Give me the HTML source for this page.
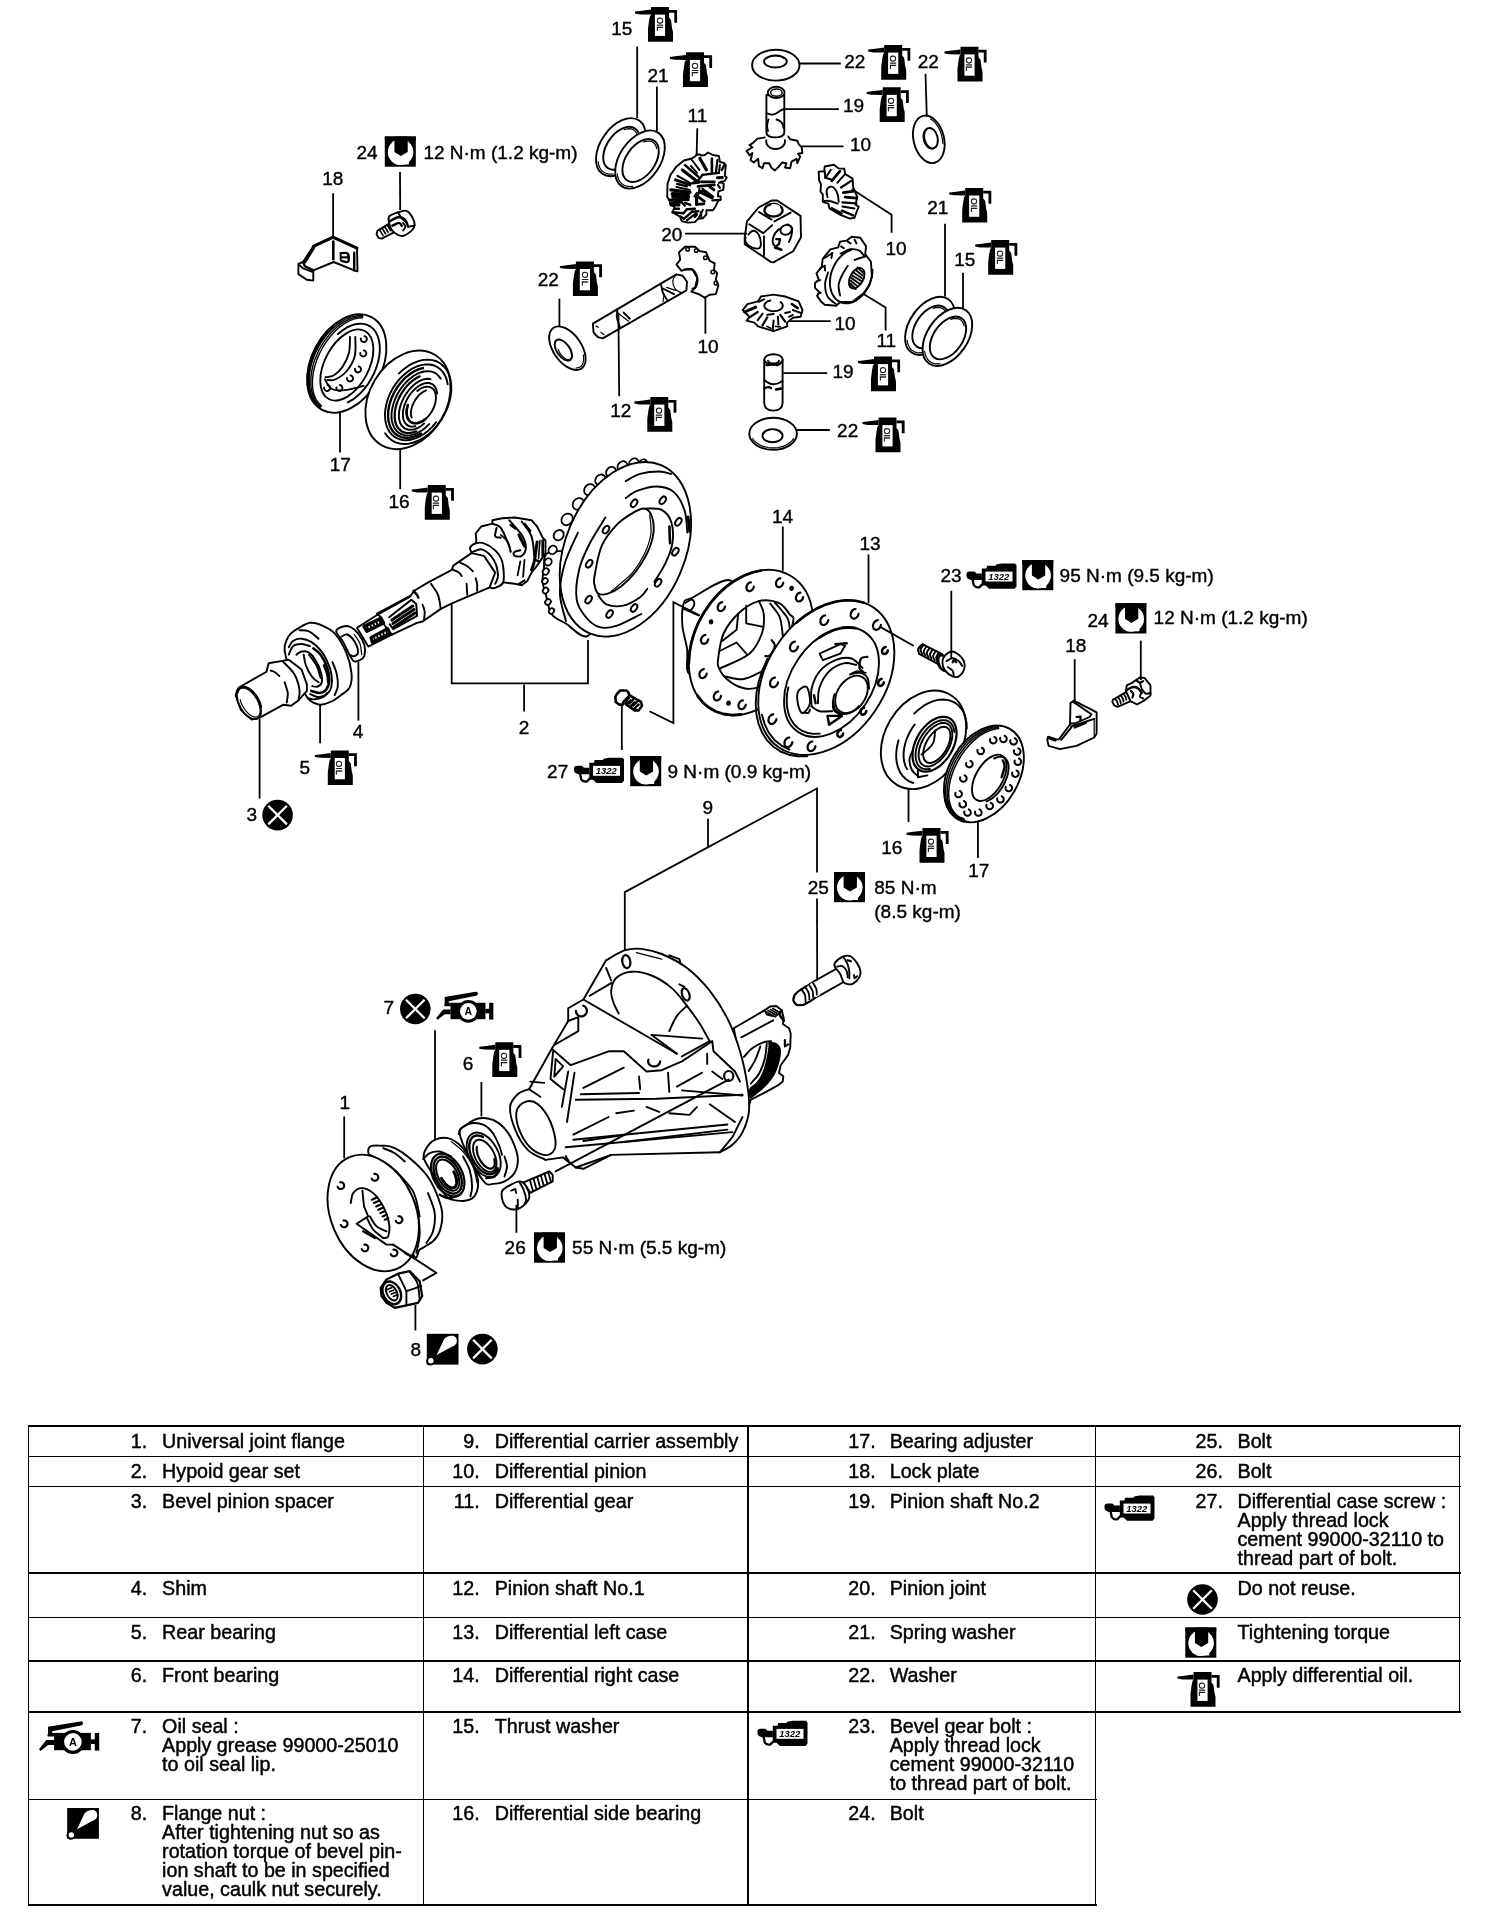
<!DOCTYPE html>
<html><head><meta charset="utf-8"><title>Differential components</title>
<style>
html,body{margin:0;padding:0;background:#fff;}
body{filter:grayscale(1);width:1504px;height:1932px;position:relative;overflow:hidden;font-family:"Liberation Sans",sans-serif;color:#000;}
svg{position:absolute;left:0;top:0;}
.t{position:absolute;font-size:19.7px;line-height:19px;white-space:nowrap;-webkit-text-stroke:0.45px #000;}
.n{text-align:right;width:40px;}
.hl{position:absolute;background:#000;height:2px;}
.vl{position:absolute;background:#000;width:2px;}
svg text{font-family:"Liberation Sans",sans-serif;fill:#000;}
.lb{font-size:19px;stroke:#000;stroke-width:0.4px;}
.p{fill:none;stroke:#000;stroke-width:1.9;stroke-linecap:round;stroke-linejoin:round;}
.pw{fill:#fff;stroke:#000;stroke-width:1.9;stroke-linecap:round;stroke-linejoin:round;}
.pt{fill:none;stroke:#000;stroke-width:1.2;stroke-linecap:round;stroke-linejoin:round;}
.ld{fill:none;stroke:#000;stroke-width:1.8;}
.k{fill:#000;stroke:none;}
</style></head><body>

<div class="hl" style="left:27.5px;top:1425.1px;width:1433.0px;height:1.8px"></div>
<div class="hl" style="left:27.5px;top:1455.6px;width:1433.0px;height:1.8px"></div>
<div class="hl" style="left:27.5px;top:1485.6px;width:1433.0px;height:1.8px"></div>
<div class="hl" style="left:27.5px;top:1571.95px;width:1433.0px;height:2.1px"></div>
<div class="hl" style="left:27.5px;top:1616.6px;width:1433.0px;height:1.8px"></div>
<div class="hl" style="left:27.5px;top:1660.3999999999999px;width:1433.0px;height:1.8px"></div>
<div class="hl" style="left:27.5px;top:1710.8px;width:1433.0px;height:1.8px"></div>
<div class="hl" style="left:27.5px;top:1798.6px;width:1069.0px;height:1.8px"></div>
<div class="hl" style="left:27.5px;top:1904.1px;width:1069.0px;height:1.8px"></div>
<div class="vl" style="left:27.6px;top:1425px;height:481px;width:1.8px"></div>
<div class="vl" style="left:422.6px;top:1425px;height:481px;width:1.8px"></div>
<div class="vl" style="left:746.9px;top:1425px;height:481px;width:1.8px"></div>
<div class="vl" style="left:1094.6px;top:1425px;height:481px;width:1.8px"></div>
<div class="vl" style="left:1458.6px;top:1425px;height:287.70000000000005px;width:1.8px"></div>
<div class="t n" style="left:107.19999999999999px;top:1432.1px">1.</div>
<div class="t" style="left:162.1px;top:1432.1px">Universal joint flange</div>
<div class="t n" style="left:439.7px;top:1432.1px">9.</div>
<div class="t" style="left:494.7px;top:1432.1px">Differential carrier assembly</div>
<div class="t n" style="left:835.7px;top:1432.1px">17.</div>
<div class="t" style="left:889.7px;top:1432.1px">Bearing adjuster</div>
<div class="t n" style="left:107.19999999999999px;top:1462.0px">2.</div>
<div class="t" style="left:162.1px;top:1462.0px">Hypoid gear set</div>
<div class="t n" style="left:439.7px;top:1462.0px">10.</div>
<div class="t" style="left:494.7px;top:1462.0px">Differential pinion</div>
<div class="t n" style="left:835.7px;top:1462.0px">18.</div>
<div class="t" style="left:889.7px;top:1462.0px">Lock plate</div>
<div class="t n" style="left:107.19999999999999px;top:1491.8px">3.</div>
<div class="t" style="left:162.1px;top:1491.8px">Bevel pinion spacer</div>
<div class="t n" style="left:439.7px;top:1491.8px">11.</div>
<div class="t" style="left:494.7px;top:1491.8px">Differential gear</div>
<div class="t n" style="left:835.7px;top:1491.8px">19.</div>
<div class="t" style="left:889.7px;top:1491.8px">Pinion shaft No.2</div>
<div class="t n" style="left:107.19999999999999px;top:1578.8px">4.</div>
<div class="t" style="left:162.1px;top:1578.8px">Shim</div>
<div class="t n" style="left:439.7px;top:1578.8px">12.</div>
<div class="t" style="left:494.7px;top:1578.8px">Pinion shaft No.1</div>
<div class="t n" style="left:835.7px;top:1578.8px">20.</div>
<div class="t" style="left:889.7px;top:1578.8px">Pinion joint</div>
<div class="t n" style="left:107.19999999999999px;top:1622.8px">5.</div>
<div class="t" style="left:162.1px;top:1622.8px">Rear bearing</div>
<div class="t n" style="left:439.7px;top:1622.8px">13.</div>
<div class="t" style="left:494.7px;top:1622.8px">Differential left case</div>
<div class="t n" style="left:835.7px;top:1622.8px">21.</div>
<div class="t" style="left:889.7px;top:1622.8px">Spring washer</div>
<div class="t n" style="left:107.19999999999999px;top:1666.1px">6.</div>
<div class="t" style="left:162.1px;top:1666.1px">Front bearing</div>
<div class="t n" style="left:439.7px;top:1666.1px">14.</div>
<div class="t" style="left:494.7px;top:1666.1px">Differential right case</div>
<div class="t n" style="left:835.7px;top:1666.1px">22.</div>
<div class="t" style="left:889.7px;top:1666.1px">Washer</div>
<div class="t n" style="left:107.19999999999999px;top:1717.1px">7.</div>
<div class="t" style="left:162.1px;top:1717.1px">Oil seal :<br>Apply grease 99000-25010<br>to oil seal lip.</div>
<div class="t n" style="left:439.7px;top:1717.1px">15.</div>
<div class="t" style="left:494.7px;top:1717.1px">Thrust washer</div>
<div class="t n" style="left:835.7px;top:1717.1px">23.</div>
<div class="t" style="left:889.7px;top:1717.1px">Bevel gear bolt :<br>Apply thread lock<br>cement 99000-32110<br>to thread part of bolt.</div>
<div class="t n" style="left:107.19999999999999px;top:1804.3px">8.</div>
<div class="t" style="left:162.1px;top:1804.3px">Flange nut :<br>After tightening nut so as<br>rotation torque of bevel pin-<br>ion shaft to be in specified<br>value, caulk nut securely.</div>
<div class="t n" style="left:439.7px;top:1804.3px">16.</div>
<div class="t" style="left:494.7px;top:1804.3px">Differential side bearing</div>
<div class="t n" style="left:835.7px;top:1804.3px">24.</div>
<div class="t" style="left:889.7px;top:1804.3px">Bolt</div>
<div class="t n" style="left:1182.9px;top:1432.1px">25.</div>
<div class="t" style="left:1237.5px;top:1432.1px">Bolt</div>
<div class="t n" style="left:1182.9px;top:1462.0px">26.</div>
<div class="t" style="left:1237.5px;top:1462.0px">Bolt</div>
<div class="t n" style="left:1182.9px;top:1491.8px">27.</div>
<div class="t" style="left:1237.5px;top:1491.8px">Differential case screw :<br>Apply thread lock<br>cement 99000-32110 to<br>thread part of bolt.</div>
<div class="t" style="left:1237.5px;top:1578.8px">Do not reuse.</div>
<div class="t" style="left:1237.5px;top:1622.8px">Tightening torque</div>
<div class="t" style="left:1237.5px;top:1666.1px">Apply differential oil.</div>
<svg width="1504" height="1932" viewBox="0 0 1504 1932">
<defs>
<!-- oil can: origin = body top-left -->
<g id="oil">
<polygon class="k" points="0,0 18,0 18,10.5 20,13 21,21 22,25 22,34.7 -3,34.7 -3,22 -2,14 -1,9 0,8"/>
<polygon class="k" points="-16,4.6 -11,4 0,2.6 0,7.6 -11,7.4 -16,6.6"/>
<path d="M18 4.3 H24.7 V15.8" stroke="#000" stroke-width="2.8" fill="none"/>
<rect x="3.9" y="7.6" width="10.2" height="21.3" fill="#fff"/>
<text transform="translate(5.6,10.2) rotate(90)" font-size="8.6" style="fill:#000;stroke:#000;stroke-width:.3px">OIL</text>
</g>
<!-- torque: origin = square top-left -->
<g id="tq">
<rect class="k" x="0" y="0" width="31" height="30.2"/>
<circle cx="15.8" cy="15.6" r="12.8" fill="#fff"/>
<rect x="11" y="22" width="13" height="6" fill="#fff"/>
<polygon class="k" points="9.6,0 22.9,0 22.9,15.4 16,19.6 9.6,15.4"/>
<rect class="k" x="0" y="0" width="31" height="3.6"/>
</g>
<!-- do not reuse: origin = centre -->
<g id="xc">
<circle class="k" cx="0" cy="0" r="15.3"/>
<path d="M-9.3 -9.3 L9.3 9.3 M9.3 -9.3 L-9.3 9.3" stroke="#fff" stroke-width="2.3" fill="none"/>
</g>
<!-- thread lock 1322: origin = bbox top-left -->
<g id="lk">
<path class="k" d="M15.3 5 H20 L20.6 2.3 H29 L29.6 1 L35 0 H48.6 L50 1.8 V23 L48 25.2 H22.5 L19 22 H15.3 Z"/>
<rect x="19" y="8.1" width="27" height="9.9" fill="#fff"/>
<text x="21.8" y="16.4" font-size="8.6" font-weight="bold" font-style="italic" textLength="21" lengthAdjust="spacingAndGlyphs">1322</text>
<path class="k" d="M0 10.5 Q0 8 3 8 H8 L10 10 H15.4 V16.4 H4.5 Q0 15.5 0 12.5 Z"/>
<path d="M6 15.5 L7.2 21.5 Q9.2 24.6 13 23.6 L17 19.5" stroke="#000" stroke-width="2.3" fill="none" stroke-linejoin="round"/>
</g>
<!-- grease gun (A): coords = px relative to origin; nozzle tip at (9,39.6) -->
<g id="gr">
<rect class="k" x="24.1" y="22.9" width="36.8" height="17.3"/>
<circle class="k" cx="42.9" cy="31.9" r="12"/>
<circle cx="42.9" cy="31.9" r="8.8" fill="#fff"/>
<text x="42.9" y="35.9" font-size="11" font-weight="bold" text-anchor="middle">A</text>
<rect class="k" x="60.8" y="29.3" width="5" height="4.7"/>
<rect class="k" x="64.8" y="22.9" width="4.4" height="17.7"/>
<path class="k" d="M18 16.8 L50.5 11.4 Q53 11 53 13.4 Q53 15 51 15.4 L22.2 21.2 L22.2 23 L24.2 23 L24.2 26.6 L18 26.6 Q16.8 25 18 23.5 Z"/>
<polygon class="k" points="24.2,29.9 16.3,29.9 9,39.2 10.6,40.9 18,34.9 24.2,34.9"/>
</g>
<!-- caulk: origin = square top-left -->
<g id="ck">
<rect class="k" x="0" y="0" width="31.7" height="30.8"/>
<circle class="k" cx="3.6" cy="27.4" r="4.3"/>
<path d="M9.8 21.5 L17 6 Q20 1.6 26 2 Q30.5 3 30 8 Q29.5 11.5 25 13 L13 19.5 Z" fill="#fff"/>
<circle cx="4.1" cy="27" r="2.7" fill="#fff"/>
</g>
</defs>

<!-- 00_tableicons.svg -->
<use href="#gr" x="30" y="1710"/>
<use href="#ck" x="67.2" y="1808"/>

<!-- 20_washers.svg -->
<ellipse class="pw" cx="620.8" cy="147.2" rx="32.4" ry="20.2" transform="rotate(-55.3 620.8 147.2)"/>
<ellipse class="pw" cx="621.4" cy="148.2" rx="24" ry="14.6" transform="rotate(-55.3 621.4 148.2)"/>
<path class="pt" d="M613.3 174 L610.4 174.2 L607.6 173.9 L605.1 173 L602.9 171.6 L601.1 169.8 L599.7 167.5 L598.6 164.7 L598.1 161.7"/>
<path class="pt" d="M624.2 129.7 L626.6 129 L628.9 128.7 L631.1 128.9 L633 129.5 L634.6 130.6 L635.9 132.1 L636.9 134 L637.5 136.2"/>
<ellipse class="pw" cx="640" cy="159.5" rx="32.4" ry="20.2" transform="rotate(-55.3 640 159.5)"/>
<ellipse class="pw" cx="640.6" cy="160.5" rx="24" ry="14.6" transform="rotate(-55.3 640.6 160.5)"/>
<path class="pt" d="M632.5 186.3 L629.6 186.5 L626.8 186.2 L624.3 185.3 L622.1 183.9 L620.3 182.1 L618.9 179.8 L617.8 177 L617.3 174"/>
<path class="pt" d="M643.4 142 L645.8 141.3 L648.1 141 L650.3 141.2 L652.2 141.8 L653.8 142.9 L655.1 144.4 L656.1 146.3 L656.7 148.5"/>
<ellipse class="pw" cx="929.9" cy="325.9" rx="32.4" ry="20.2" transform="rotate(-55.3 929.9 325.9)"/>
<ellipse class="pw" cx="930.5" cy="326.9" rx="24" ry="14.6" transform="rotate(-55.3 930.5 326.9)"/>
<path class="pt" d="M922.4 352.7 L919.5 352.9 L916.7 352.6 L914.2 351.7 L912 350.3 L910.2 348.5 L908.8 346.2 L907.7 343.4 L907.2 340.4"/>
<path class="pt" d="M933.3 308.4 L935.7 307.7 L938 307.4 L940.2 307.6 L942.1 308.2 L943.7 309.3 L945 310.8 L946 312.7 L946.6 314.9"/>
<ellipse class="pw" cx="947.4" cy="336.9" rx="32.4" ry="20.2" transform="rotate(-55.3 947.4 336.9)"/>
<ellipse class="pw" cx="948" cy="337.9" rx="24" ry="14.6" transform="rotate(-55.3 948 337.9)"/>
<path class="pt" d="M939.9 363.7 L937 363.9 L934.2 363.6 L931.7 362.7 L929.5 361.3 L927.7 359.5 L926.3 357.2 L925.2 354.4 L924.7 351.4"/>
<path class="pt" d="M950.8 319.4 L953.2 318.7 L955.5 318.4 L957.7 318.6 L959.6 319.2 L961.2 320.3 L962.5 321.8 L963.5 323.7 L964.1 325.9"/>
<!-- 21_top_shaft19a.svg -->
<ellipse class="pw" cx="775.8" cy="65.2" rx="23.7" ry="15.4"/>
<ellipse class="pw" cx="775.4" cy="61.5" rx="11.4" ry="6"/>
<path class="pt" d="M766.9 58.6 L767.5 58 L768.2 57.5 L769 57 L770 56.5 L771.1 56.2 L772.2 55.9 L773.5 55.7 L774.8 55.6 L776 55.6 L777.3 55.7 L778.6 55.9 L779.7 56.2 L780.8 56.5 L781.8 57 L782.6 57.5 L783.3 58 L783.9 58.6"/>
<path class="pw" d="M764.7 137.5 L757.5 138.6 L753.1 142.9 L749.5 145.1 L752.4 147.2 L746.6 150.9 L749.5 155.2 L752.4 153 L750.6 160.3 L753.8 162.5 L758.2 158.8 L758.9 166.1 L762.5 168.3 L764 163.2 L769.1 163.2 L771.2 167.5 L774.9 170.4 L778.5 166.8 L782.1 162.5 L786.4 163.2 L785 167.5 L790.1 168.3 L791.5 161.7 L796.6 158.8 L797.3 163.2 L800.2 156.7 L798 153.8 L802.4 153 L801.7 147.2 L798.8 144.3 L797.3 140.7 L790.1 139.3 L788.3 136.4"/>
<path class="p" d="M784.9 140.2 L785 141.2 L784.9 142.3 L784.7 143.3 L784.3 144.3 L783.7 145.2 L783 146.1 L782.1 146.9 L781.1 147.6 L780 148.1 L778.8 148.5 L777.6 148.8 L776.3 149 L774.9 149 L773.6 148.8 L772.4 148.5 L771.2 148.1 L770.1 147.6 L769.1 146.9 L768.2 146.1 L767.5 145.2 L766.9 144.3 L766.5 143.3 L766.3 142.3 L766.2 141.2 L766.3 140.2"/>
<path class="pw" d="M766.4 95 L766.4 132 Q766.4 137.4 775.3 137.4 Q784.3 137.4 784.3 132 L784.3 95 Z"/>
<ellipse class="pw" cx="776.2" cy="92.4" rx="8.4" ry="5.6"/>
<ellipse class="p" cx="776.4" cy="92.6" rx="5.8" ry="3.6" style="stroke-width:1.4"/>
<path class="p" d="M766.4 113 Q771 116 776 113.5 Q781 110 784 109"/>
<path class="p" d="M768.5 119.5 Q766 126 768 131"/>
<path class="p" d="M776.5 119.5 Q783 121 783.6 128"/>
<!-- 22_cube_pin10r.svg -->
<path class="pw" d="M771.6 200.5 L777.2 200.5 L800.5 215.9 L801 237.3 L793.1 251.2 L773.5 262.4 L770.7 261.9 L763.3 256.8 L744.7 244.2 L744.7 237.3 L747 221.4 L758.6 207.5 Z"/>
<path class="p" d="M749.3 224.2 L763.3 233.1 L772.1 225.2"/>
<path class="p" d="M759.1 212.1 L771.6 219.6"/>
<path class="p" d="M774.4 221.4 L790.7 212.6"/>
<path class="p" d="M764 236.3 L764 256.8"/>
<path class="p" d="M781.3 207.2 L781.9 207.9 L782.2 208.8 L782.5 209.6 L782.5 210.5 L782.4 211.3 L782.1 212.2 L781.6 213 L781 213.7 L780.2 214.4 L779.3 215 L778.3 215.5 L777.2 215.9 L776 216.2 L774.8 216.4 L773.5 216.5 L772.3 216.4 L771 216.2 L769.8 215.9 L768.7 215.5 L767.7 215 L766.8 214.4 L766 213.7 L765.4 213 L765 212.2 L764.6 211.3 L764.5 210.5 L764.6 209.6 L764.8 208.8 L765.2 207.9 L765.7 207.2 L766.4 206.4 L767.3 205.8 L768.2 205.2 L769.3 204.8 L770.4 204.4" style="stroke-width:2.4"/>
<path class="pt" d="M765 209.3 L765.1 208.4 L765.4 207.5 L765.8 206.7 L766.4 206 L767.2 205.3 L768 204.7 L769 204.2 L770.1 203.8 L771.3 203.5 L772.5 203.3 L773.8 203.3 L775 203.4 L776.2 203.6 L777.3 203.9 L778.4 204.4 L779.3 204.9 L780.2 205.5 L780.9 206.3"/>
<path class="p" d="M748.4 234.5 C749.2 233.8 751.3 230.7 753 230.7 C754.7 230.7 757.3 232.3 758.6 234.5 C759.9 236.6 760.9 241.4 760.9 243.8 C760.9 246.1 760.4 248 758.6 248.4 C756.8 248.9 752.4 247.7 750.2 246.6 C748.1 245.5 746.4 243.5 745.6 241.9 C744.8 240.4 745.6 238 745.6 237.3"/>
<ellipse class="p" cx="786.1" cy="229.8" rx="5.8" ry="4.8" transform="rotate(-20 786.1 229.8)"/>
<path class="p" d="M779.1 228.9 C778.3 229.8 775.5 232.3 774.4 234.5 C773.4 236.6 772.4 239.9 772.6 241.9 C772.7 243.9 774 245.3 775.4 246.6 C776.8 247.8 780 248.9 781 249.4"/>
<path class="p" d="M787.5 224.2 C788.2 224.8 791.5 225.9 792.1 228 C792.7 230 791.7 234 791.2 236.3 C790.7 238.7 789.3 241 788.9 241.9"/>
<path class="p" d="M776.3 239.1 L780 239.1 L779.1 243.8 L774.9 247.5 L781.4 249.8" style="stroke-width:2.4"/>
<path class="pw" d="M818.7 171.6 L824.2 171.2 L824.7 166.5 L834 164.7 L838.7 168.4 L844.3 168.8 L845.2 174 L852.6 178.6 L853.1 187 L857.3 197.2 L855.4 204.7 L858.7 206.5 L854.5 217.7 L849.8 218.6 L840.5 214.9 L829.4 208.4 L828.4 203.7 L822.8 201.9 L822.8 194.4 L820.5 191.6 L821 184.2 L819.1 180.5 Z"/>
<path class="p" d="M827.5 197.2 C827.3 196.1 826.3 192.4 826.6 190.7 C826.9 189 828.1 187.5 829.4 187 C830.6 186.5 832.6 186.7 834 187.9 C835.4 189.2 837 192.1 837.7 194.4 C838.5 196.8 838.5 200.6 838.7 201.9"/>
<path class="p" d="M824.2 201 C825.1 201 827.1 200.5 829.4 201 C831.6 201.4 836.3 203.3 837.7 203.7"/>
<path class="p" d="M825.6 177.7 L830.8 169.8" style="stroke-width:2"/>
<path class="p" d="M831.7 180.9 L840.1 171.2" style="stroke-width:2.6"/>
<path class="p" d="M834.9 176.8 L838.7 172.1" style="stroke-width:2"/>
<path class="p" d="M837.3 182.8 L844.3 174.9" style="stroke-width:2"/>
<path class="p" d="M841 187.5 L851.2 180.9" style="stroke-width:2.2"/>
<path class="p" d="M843.3 192.6 L854.5 191.2" style="stroke-width:2.8"/>
<path class="p" d="M845.2 197.2 L856.4 198.2" style="stroke-width:2.8"/>
<path class="p" d="M842.4 202.4 L856.4 203.3" style="stroke-width:2.2"/>
<path class="p" d="M842.4 206.5 L854.5 208.4" style="stroke-width:2"/>
<path class="p" d="M841.9 210.7 L853.1 215.4" style="stroke-width:2.4"/>
<path class="p" d="M831.7 208.4 L841.5 213.5" style="stroke-width:2.6"/>
<path class="p" d="M824.7 171.2 L825.2 177.7" style="stroke-width:2"/>
<path class="p" d="M825.2 177.7 L833.1 180" style="stroke-width:2"/>
<!-- 23_gear11r_pin10b.svg -->
<path class="pw" d="M851.7 236.7 L860.3 237.7 L866.1 246.4 L865.2 254.1 L870.9 261.8 L871.9 276.3 L869 285.9 L863.2 293.6 L852.6 301.8 L840.1 302.3 L836.2 305.7 L824.7 304.7 L820.8 301.3 L817 295.6 L819.8 292.7 L815 287.8 L815 283 L818.9 280.1 L816.5 273.4 L821.8 266.6 L822.7 258.9 L830.4 249.3 L838.2 247.4 L840.1 241.6 L846.8 240.6 Z"/>
<path class="p" d="M872.5 269.8 L872.3 273.6 L871.7 277.4 L870.6 281.3 L869.2 285 L867.4 288.5 L865.3 291.8 L862.9 294.8 L860.2 297.4 L857.4 299.6 L854.4 301.3 L851.4 302.5 L848.3 303.2 L845.4 303.3 L842.5 302.8 L839.8 301.9 L837.4 300.4 L835.2 298.4 L833.4 295.9 L831.9 293.1 L830.8 289.9 L830.1 286.4 L829.9 282.8 L830.1 279 L830.7 275.1 L831.7 271.3 L833.2 267.6 L835 264 L837.1 260.7 L839.5 257.7 L842.2 255.1 L845 252.9 L848 251.2 L851 250"/>
<path class="p" d="M847.8 265.7 C846.8 267.3 843.5 272.1 842 275.3 C840.5 278.5 839 281.6 838.6 285 C838.3 288.3 839.8 293.8 840.1 295.6"/>
<path class="p" d="M828 272.4 C827.6 274.4 825.2 280 825.1 284 C825.1 288 825.7 293.2 827.6 296.5 C829.4 299.9 834.8 303 836.2 304.2"/>
<path class="p" d="M840.6 253.6 C842.3 252.9 847.6 249.8 850.7 249.3 C853.8 248.8 857.1 249.6 859.4 250.7 C861.6 251.9 863.4 255.1 864.2 256"/>
<path class="p" d="M854.6 259.9 C855.5 259.6 858.6 258.5 860.3 258 C862.1 257.4 864.4 256.8 865.2 256.5"/>
<path class="p" d="M824.7 258 L832.4 253.1"/>
<path class="p" d="M832.4 253.1 L831.4 258"/>
<path class="p" d="M819.8 268.6 L824.7 265.7"/>
<path class="p" d="M824.7 265.7 L825.1 270.5"/>
<path class="p" d="M817 281.1 L820.3 280.1"/>
<path class="p" d="M817.9 293.6 L820.8 292.7"/>
<path class="p" d="M841.1 246.4 L843.9 248.3"/>
<path class="p" d="M847.8 241.6 L850.7 243.5"/>
<path class="p" d="M854.6 239.6 L856.5 243.5"/>
<ellipse class="p" cx="856.7" cy="278.2" rx="6.6" ry="11" transform="rotate(28 856.7 278.2)"/>
<path class="p" d="M857.5 267.3 L863.1 272.9" style="stroke-width:1.9"/>
<path class="p" d="M855.7 270 L862.5 275.6" style="stroke-width:1.9"/>
<path class="p" d="M853.9 272.7 L861.9 278.3" style="stroke-width:1.9"/>
<path class="p" d="M852.1 275.4 L861.3 281" style="stroke-width:1.9"/>
<path class="p" d="M851.5 278.1 L859.5 283.7" style="stroke-width:1.9"/>
<path class="p" d="M850.8 280.8 L857.6 286.4" style="stroke-width:1.9"/>
<path class="p" d="M850.2 283.5 L855.8 289.1" style="stroke-width:1.9"/>
<path class="pw" d="M742.7 310 L747.5 304.2 L758.1 301.3 L761 296.5 L773.6 294.6 L785.1 296.5 L798.6 301.3 L802.5 310 L800.6 316.8 L792.8 317.7 L787.1 322.6 L787.1 326.4 L773.6 331.2 L767.8 329.3 L758.1 326.4 L754.3 322.6 L746.6 320.6 L749.5 316.8 Z"/>
<path class="p" d="M780.6 302.1 L781.4 302.8 L782 303.5 L782.4 304.2 L782.7 304.9 L782.8 305.7 L782.7 306.5 L782.4 307.2 L781.9 308 L781.3 308.6 L780.6 309.3 L779.6 309.8 L778.6 310.3 L777.5 310.7 L776.3 310.9 L775 311.1 L773.7 311.2 L772.5 311.1 L771.2 311 L770 310.7 L768.8 310.4 L767.8 309.9 L766.8 309.4 L766 308.8 L765.3 308.2 L764.8 307.4 L764.5 306.7 L764.4 305.9 L764.4 305.2 L764.6 304.4 L765 303.7 L765.6 303 L766.3 302.3 L767.2 301.7 L768.1 301.2 L769.2 300.8 L770.4 300.5"/>
<path class="p" d="M744.6 312 L755.7 307.1" style="stroke-width:3"/>
<path class="p" d="M749.5 317.3 L757.7 312" style="stroke-width:2.2"/>
<path class="p" d="M757.7 320.1 L762.5 313.9" style="stroke-width:2"/>
<path class="p" d="M762.5 325.4 L767.3 317.3" style="stroke-width:2.2"/>
<path class="p" d="M767.3 314.8 L773.6 313.9" style="stroke-width:2"/>
<path class="p" d="M772.6 330.3 L773.6 320.6" style="stroke-width:2"/>
<path class="p" d="M778.4 324.5 L777.9 316.8" style="stroke-width:2"/>
<path class="p" d="M785.1 321.6 L780.3 314.8" style="stroke-width:2.2"/>
<path class="p" d="M785.1 312.9 L790 312" style="stroke-width:2"/>
<path class="p" d="M789 316.8 L792.8 314.8" style="stroke-width:2"/>
<path class="p" d="M791.9 304.2 L797.7 308.1" style="stroke-width:2.6"/>
<path class="p" d="M792.8 310 L800.6 312.9" style="stroke-width:2"/>
<path class="p" d="M758.6 301.8 L763.9 299.4" style="stroke-width:2"/>
<path class="p" d="M766.8 326.4 L770.7 328.3" style="stroke-width:1.6"/>
<path class="p" d="M775.5 326.4 L780.3 326.9" style="stroke-width:1.6"/>
<!-- 24_gear11l.svg -->
<path class="pw" d="M696.4 155.5 L691.9 158.5 L683.9 160.5 L676.5 166.4 L670.5 174.9 L667.5 183.9 L667.2 196.9 L669.5 200.4 L670.5 203.9 L674.5 207.3 L672.5 212.3 L680 216.8 L681.9 221.3 L687.9 222.6 L694.9 222.1 L697.9 218.8 L702.9 218.3 L706.4 214.3 L706.4 210.3 L712.9 210.3 L715.4 206.8 L718.4 200.4 L720.8 199.9 L720.6 196.4 L717.9 196.4 L718.4 191.4 L723.3 189.9 L723.8 183.9 L720.3 181.9 L724.8 180.9 L726.8 177.4 L724.8 175.9 L725.8 165 L724.3 163 L719.9 162 L718.9 156 L712.9 155 L707.9 152.5 L704.9 155 L700.9 155.5 L699.9 154.5 L696.4 154.5 Z"/>
<path class="p" d="M691.9 160 L699.4 169.9" style="stroke-width:2"/>
<path class="p" d="M690.9 165.9 L696.9 172.9" style="stroke-width:2"/>
<path class="p" d="M699.9 158.5 L706.4 169.9" style="stroke-width:3.2"/>
<path class="p" d="M711.9 158.5 L711.9 172.9" style="stroke-width:2.6"/>
<path class="p" d="M717.4 160 L715.9 172.9" style="stroke-width:2.2"/>
<path class="p" d="M719.9 165 L718.9 172.9" style="stroke-width:2"/>
<path class="p" d="M684.9 165 L698.4 176.9" style="stroke-width:2.4"/>
<path class="p" d="M682.4 169.9 L697.9 181.9" style="stroke-width:3.2"/>
<path class="p" d="M677.5 175.9 L690.9 183.4" style="stroke-width:2.2"/>
<path class="p" d="M675.5 179.9 L689.9 184.9" style="stroke-width:3"/>
<path class="p" d="M677 183.9 L686.9 186.4" style="stroke-width:2.2"/>
<path class="p" d="M676.5 186.9 L689.9 189.9" style="stroke-width:2"/>
<path class="p" d="M671 189.9 L689.9 192.4" style="stroke-width:3.4"/>
<path class="p" d="M672.5 194.1 L687.9 194.4" style="stroke-width:4"/>
<path class="p" d="M673 196.9 L688.4 197.1" style="stroke-width:3.6"/>
<path class="p" d="M669.5 199.9 L688.4 199.9" style="stroke-width:2.6"/>
<path class="p" d="M670.5 203.1 L680.9 201.9" style="stroke-width:3.4"/>
<path class="p" d="M671 204.9 L679 204.9" style="stroke-width:3"/>
<path class="p" d="M674.5 208.8 L679 208.8" style="stroke-width:2.4"/>
<path class="p" d="M681.9 202.4 L684.9 205.8" style="stroke-width:2.2"/>
<path class="p" d="M684.9 202.9 L690.4 204.9" style="stroke-width:2.2"/>
<path class="p" d="M672.5 212.3 L683.4 213.3" style="stroke-width:2.4"/>
<path class="p" d="M683.4 213.3 L686.9 209.3" style="stroke-width:2.4"/>
<path class="p" d="M686.9 209.3 L694.9 208.8" style="stroke-width:2.4"/>
<path class="p" d="M680 216.3 L683.4 218.3" style="stroke-width:2.2"/>
<path class="p" d="M683.9 218.8 L691.9 211.8" style="stroke-width:2.4"/>
<path class="p" d="M691.9 211.8 L698.4 211.3" style="stroke-width:2.4"/>
<path class="p" d="M686.9 220.3 L695.9 213.3" style="stroke-width:2.2"/>
<path class="p" d="M694.9 216.8 L696.9 214.3" style="stroke-width:2.6"/>
<path class="p" d="M700.9 212.3 L701.4 216.8" style="stroke-width:2"/>
<path class="p" d="M698.4 218.8 L702.9 209.8" style="stroke-width:2"/>
<path class="p" d="M701.4 181.9 L714.4 181.9" style="stroke-width:2.6"/>
<path class="p" d="M697.9 186.4 L714.4 184.9" style="stroke-width:2.6"/>
<path class="p" d="M699.4 188.4 L698.4 194.9" style="stroke-width:2"/>
<path class="p" d="M701.4 192.1 L711.9 196.9" style="stroke-width:4.4"/>
<path class="p" d="M702.4 188.9 L710.4 194.4" style="stroke-width:2"/>
<path class="p" d="M709.9 186.9 L713.9 189.9" style="stroke-width:3"/>
<path class="p" d="M696.4 195.4 L696.7 204.4" style="stroke-width:3.2"/>
<path class="p" d="M696.4 204.4 L703.9 203.9" style="stroke-width:2.6"/>
<path class="p" d="M698.9 197.4 L704.4 201.4" style="stroke-width:2.6"/>
<path class="p" d="M694.4 196.4 L696.9 192.9" style="stroke-width:2"/>
<path class="p" d="M717.4 177.7 L722.3 177.4" style="stroke-width:3"/>
<path class="p" d="M712.4 200.4 L719.9 199.9" style="stroke-width:2.4"/>
<path class="p" d="M702.4 174.9 L718.9 172.9" style="stroke-width:2.4"/>
<path class="p" d="M702.4 174.9 L698.4 179.9" style="stroke-width:2.4"/>
<path class="p" d="M692.9 182.9 L699.4 181.9" style="stroke-width:3"/>
<path class="p" d="M721.8 169.9 L724.3 165" style="stroke-width:2.4"/>
<path class="p" d="M717.9 184.9 L719.9 187.9" style="stroke-width:2"/>
<path class="p" d="M718.9 182.9 L722.8 181.9" style="stroke-width:2"/>
<!-- 25_shaft12.svg -->
<ellipse class="pw" cx="567.4" cy="348.2" rx="24.7" ry="14" transform="rotate(55 567.4 348.2)"/>
<ellipse class="pw" cx="563.4" cy="350.1" rx="12" ry="6.5" transform="rotate(55 563.4 350.1)"/>
<path class="pt" d="M571 352.6 L571.4 353.8 L571.6 354.9 L571.6 356 L571.6 357 L571.4 357.8 L571 358.5 L570.5 359 L569.9 359.4 L569.2 359.6 L568.4 359.7 L567.5 359.5 L566.6 359.2 L565.6 358.7 L564.6 358.1 L563.6 357.3 L562.6 356.4 L561.7 355.4 L560.8 354.3 L560 353.1 L559.3 351.9 L558.7 350.6 L558.2 349.4"/>
<path class="pt" d="M583.3 354.8 L583.6 357.6 L583.6 360.1 L583.2 362.4 L582.5 364.3 L581.4 365.9 L579.9 367 L578.2 367.7 L576.2 368"/>
<path class="pw" d="M679 252.3 L685.1 246.8 L695 246.8 L699.9 251.1 L706.1 252.3 L709.7 260.9 L714.7 263.4 L714 269.5 L717.1 273.2 L715.9 279.4 L718.4 285.5 L715.9 294.1 L709.7 294.7 L704.8 297.8 L698.7 294.1 L691.3 291.7 L695 288 L697.4 278.1 L692.5 269.5 L685.1 269.5 L681.5 270.8 L676.5 264.6 L680.2 259.7 Z"/>
<ellipse class="p" cx="687.6" cy="249.2" rx="1.8" ry="1.8" style="stroke-width:1.5"/>
<ellipse class="p" cx="696.2" cy="250.5" rx="1.8" ry="1.8" style="stroke-width:1.5"/>
<ellipse class="p" cx="705.4" cy="257.8" rx="1.8" ry="1.8" style="stroke-width:1.5"/>
<ellipse class="p" cx="712.8" cy="272" rx="1.8" ry="1.8" style="stroke-width:1.5"/>
<ellipse class="p" cx="715.9" cy="283.1" rx="1.8" ry="1.8" style="stroke-width:1.5"/>
<path class="p" d="M685.1 269.5 C686.4 269.5 690.5 268.1 692.5 269.5 C694.6 271 696.8 275.3 697.4 278.1 C698.1 281 697 285 696.2 286.7 C695.4 288.5 693.1 288.3 692.5 288.6"/>
<path class="pw" d="M676.5 274.4 L592.9 323.6 L593.5 332.3 L597.8 337.2 L602.7 338.4 L686.4 290.4 L687 281.8 L682.7 275.7 Z"/>
<path class="pt" d="M676.5 274.4 C675.9 275.5 673 278.1 672.8 280.6 C672.6 283.1 673.9 287.2 675.3 289.2 C676.7 291.3 680.4 292.3 681.5 292.9"/>
<path class="p" d="M617.5 308.9 C617.4 310.3 616.5 314.4 616.9 317.5 C617.3 320.6 619.4 325.7 620 327.3"/>
<path class="p" d="M661.2 284.9 C661.5 286.2 662 290.3 663 292.9 C664 295.5 666.6 299 667.3 300.3"/>
<path class="p" d="M623.6 312.6 L629.8 318.7"/>
<path class="pt" d="M618.7 313.8 L628.6 321.2"/>
<path class="p" d="M663 288.6 L674.1 294.1"/>
<path class="pt" d="M666.7 287.4 L675.3 290.4"/>
<path class="pt" d="M664.2 294.1 L663 301.5"/>
<path class="pt" d="M596 326.1 L598.4 327.3"/>
<path class="pt" d="M600.9 332.3 L604 334.7"/>
<!-- 26_shaft19b_washers.svg -->
<path class="pw" d="M764.2 360 L764.2 403 Q764.6 410.6 773.4 410.6 Q782.3 410.6 782.6 403 L782.6 360 Z"/>
<ellipse class="pw" cx="773.5" cy="359.6" rx="9.2" ry="5.4"/>
<path class="p" d="M779 360.8 L778.8 361.2 L778.5 361.6 L778.1 362 L777.7 362.3 L777.1 362.7 L776.5 362.9 L775.8 363.1 L775 363.3 L774.3 363.4 L773.5 363.4 L772.7 363.4 L772 363.3 L771.2 363.1 L770.5 362.9 L769.9 362.7 L769.3 362.3 L768.9 362 L768.5 361.6 L768.2 361.2 L768 360.8"/>
<path class="p" d="M764.4 380 Q773 388 782.4 381"/>
<path class="p" d="M764.4 388.5 Q768 386 771 388 M776 389.5 L781.5 388.5" style="stroke-width:2.4"/>
<path class="p" d="M766 365 Q769 366 771 364.5 M777 365.5 Q780 364.5 781.5 362.5"/>
<ellipse class="pw" cx="773.1" cy="433.8" rx="23.8" ry="16"/>
<ellipse class="pw" cx="772.5" cy="435.7" rx="10.1" ry="6.6"/>
<path class="pt" d="M793.6 438.6 L792.3 440.4 L790.6 442.1 L788.6 443.6 L786.2 445 L783.6 446.1 L780.8 446.9 L777.8 447.5 L774.7 447.8 L771.5 447.8 L768.4 447.5 L765.4 446.9 L762.6 446.1 L760 445 L757.6 443.6 L755.6 442.1 L753.9 440.4 L752.6 438.6"/>
<path class="pt" d="M764 433.6 L764.3 433 L764.8 432.3 L765.4 431.7 L766.1 431.2 L767 430.7 L767.9 430.3 L769 429.9 L770.1 429.7 L771.3 429.5 L772.5 429.5 L773.7 429.5 L774.9 429.7 L776 429.9 L777.1 430.3 L778 430.7 L778.9 431.2 L779.6 431.7 L780.2 432.3 L780.7 433 L781 433.6"/>
<ellipse class="pw" cx="928.8" cy="139.3" rx="15.2" ry="24.2" transform="rotate(-14 928.8 139.3)"/>
<ellipse class="pw" cx="931" cy="138.2" rx="6.6" ry="10.4" transform="rotate(-14 931 138.2)"/>
<path class="pt" d="M932.5 148.7 L931.6 148.8 L930.6 148.7 L929.6 148.4 L928.7 148 L927.7 147.3 L926.8 146.4 L926 145.4 L925.2 144.2 L924.6 143 L924 141.6 L923.6 140.2 L923.3 138.7 L923.1 137.3 L923.1 135.9 L923.3 134.5 L923.5 133.2 L923.9 132 L924.4 131 L925.1 130.1 L925.8 129.4 L926.6 128.8 L927.5 128.5"/>
<path class="pt" d="M930.6 118.9 L932.5 120.2 L934.4 121.9 L936.1 123.9 L937.7 126.2 L939.2 128.8 L940.4 131.6 L941.4 134.6 L942.1 137.6 L942.6 140.6 L942.9 143.7"/>
<!-- 27_lock18_bolt24_L.svg -->
<path class="pw" d="M332.8 236.9 L357 248.1 L357.5 271.3 L354.2 270.4 L333.7 262 L313.3 270.4 L313.3 280.6 L306.8 279.7 L298.4 274.1 L298.4 263.9 L303 262 L313.3 246.2 Z"/>
<path class="p" d="M332.8 237.1 L357 248.2" style="stroke-width:3"/>
<path class="p" d="M313.3 246.4 L332.8 237.4" style="stroke-width:3"/>
<path class="p" d="M304.9 262 L313.7 247.6" style="stroke-width:3"/>
<path class="p" d="M333.3 241.5 L333.3 259.2" style="stroke-width:2.6"/>
<path class="p" d="M354.2 252.7 L354.2 270.4" style="stroke-width:2.4"/>
<path class="p" d="M303 262 L304.9 266.2 L313.3 270.4" style="stroke-width:2.4"/>
<path class="p" d="M298.8 264.3 L302.6 268.1 L312.3 271.8"/>
<path class="p" d="M340.7 253.2 C341.9 253.3 346.5 252.2 347.7 253.6 C349 255 349.1 260.3 348.2 261.6 C347.2 262.8 343.1 261.2 342.1 261.1" style="stroke-width:2.4"/>
<path class="p" d="M342.1 257.4 L347.2 257.4" style="stroke-width:2.2"/>
<path class="p" d="M340.7 253.6 L340.7 260.2"/>
<path class="pw" d="M388.7 223.9 L377.5 230.8 L376.6 234.1 L378.4 237.8 L381.7 238.6 L394.3 232.2 Z"/>
<path class="p" d="M379.4 229.6 L382.9 235.4" style="stroke-width:1.7"/>
<path class="p" d="M382 228 L385.5 233.8" style="stroke-width:1.7"/>
<path class="p" d="M384.6 226.5 L388.1 232.2" style="stroke-width:1.7"/>
<path class="p" d="M387.2 224.9 L390.7 230.7" style="stroke-width:1.7"/>
<path class="p" d="M389.8 223.3 L393.3 229.1" style="stroke-width:1.7"/>
<path class="pw" d="M388.7 217.3 C389 215.2 390.7 215.4 392.4 214.5 C394.1 213.7 396.6 212.8 398.9 212.2 C401.2 211.6 404.2 210.1 406.4 210.8 C408.5 211.5 410.5 214.1 411.9 216.4 C413.3 218.7 414.7 222.5 414.7 224.8 C414.7 227.1 414 228.5 411.9 230.4 C409.9 232.2 405.4 235.5 402.6 236 C399.8 236.4 397.2 234.6 395.2 233.2 C393.2 231.8 391.6 230.2 390.5 227.6 C389.4 224.9 388.4 219.5 388.7 217.3 Z"/>
<path class="p" d="M390.1 221.1 C391.4 220.4 395.6 217.7 398 217.3 C400.4 217 402.8 217.7 404.5 219.2 C406.2 220.8 407.6 225.4 408.2 226.6" style="stroke-width:2.4"/>
<path class="p" d="M398 212.2 C398.6 213.2 400.3 216.6 401.7 218.3 C403.1 219.9 405.6 221.4 406.4 222"/>
<path class="p" d="M403.1 222.9 C403.5 223.5 405.4 225.4 405.4 226.6 C405.4 227.9 403.5 229.8 403.1 230.4"/>
<path class="p" d="M408.2 226.6 L414.3 225.7"/>
<path class="p" d="M392.4 225.7 C393.5 225.3 397.4 222.9 398.9 222.9 C400.5 222.9 401.2 225.3 401.7 225.7" style="stroke-width:2.4"/>
<!-- 28_adj17_brg16_L.svg -->
<ellipse class="pw" cx="346.8" cy="363.5" rx="52.5" ry="35.1" transform="rotate(-62 346.8 363.5)"/>
<path class="p" d="M320.2 407.4 L316.8 404.2 L313.9 400.3 L311.6 395.7 L310 390.4 L309.2 384.7 L309.1 378.5 L309.7 372 L311 365.3 L313.1 358.7 L315.8 352.1 L319.1 345.7 L322.9 339.7 L327.2 334.1 L331.9 329.1 L336.8 324.8 L342 321.3 L347.3 318.5 L352.5 316.6 L357.7 315.7 L362.6 315.7" style="stroke-width:1.4"/>
<path class="p" d="M320.9 406.6 L317.6 403.6 L314.9 399.8 L312.9 395.4 L311.5 390.3 L310.8 384.7 L310.8 378.7 L311.5 372.4 L312.8 365.9 L314.9 359.4 L317.6 352.9 L320.8 346.7 L324.5 340.8 L328.7 335.3 L333.2 330.4 L338 326.1 L343 322.5 L348 319.8 L353 317.9 L357.9 316.9 L362.6 316.8" style="stroke-width:1.4"/>
<path class="p" d="M321.5 405.8 L318.5 402.9 L316 399.4 L314.1 395.1 L312.9 390.2 L312.4 384.7 L312.5 378.9 L313.2 372.8 L314.7 366.5 L316.7 360.1 L319.4 353.8 L322.5 347.7 L326.2 341.9 L330.2 336.5 L334.6 331.6 L339.2 327.4 L344 323.8 L348.8 321.1 L353.5 319.1 L358.2 318 L362.6 317.9" style="stroke-width:1.4"/>
<path class="p" d="M313.5 401.1 L310.9 396.3 L309.1 390.7 L308.1 384.6 L307.9 378 L308.6 371.1 L310 364.1 L312.2 357 L315.1 350.1 L318.8 343.5 L323 337.2 L327.7 331.6 L332.8 326.6" style="stroke-width:3"/>
<path class="p" d="M338 334.1 L342.2 330.6 L346.6 327.7 L351 325.6 L355.3 324.2 L359.6 323.7 L363.5 323.9 L367.2 324.9 L370.6 326.6 L373.5 329.1 L375.9 332.3 L377.7 336.1 L379 340.5 L379.7 345.4 L379.8 350.6 L379.3 356.1 L378.1 361.7 L376.4 367.4 L374.2 373 L371.4 378.5 L368.2 383.7 L364.6 388.6 L360.7 392.9 L356.5 396.7 L352.2 399.9 L347.8 402.4"/>
<ellipse class="pw" cx="346.8" cy="365" rx="38.5" ry="22" transform="rotate(-62 346.8 365)"/>
<path class="p" d="M350 336.9 C349.8 339.6 350.2 347.9 348.9 352.9 C347.7 357.8 345 363 342.6 366.7 C340.1 370.4 336.9 373.4 334 375.2 C331.2 377 327 377 325.5 377.3"/>
<path class="p" d="M355.3 336.9 C355.2 340.1 356.2 350.4 354.8 356.1 C353.4 361.7 350.1 367.1 346.8 371 C343.5 374.9 338.3 378 335.1 379.5 C331.9 381 328.9 379.9 327.7 380"/>
<path class="p" d="M325 379.5 C326.2 381.1 328.6 387.3 331.9 389 C335.2 390.8 339.4 390.6 344.7 390.1 C350 389.6 360.6 386.6 363.8 385.9"/>
<path class="p" d="M364.4 336.1 L364.8 336.2 L365.2 336.4 L365.5 336.6 L365.9 336.8 L366.2 337.2 L366.4 337.5 L366.6 337.9 L366.7 338.3 L366.8 338.7 L366.8 339.1 L366.8 339.6 L366.7 340 L366.5 340.4 L366.3 340.7 L366 341.1 L365.7 341.4 L365.4 341.6 L365 341.8 L364.6 341.9 L364.2 342 L363.7 342 L363.3 342 L362.9 341.9 L362.5 341.7 L362.1 341.5 L361.8 341.2 L361.5 340.9 L361.3 340.6 L361.1 340.2 L360.9 339.8 L360.8 339.4 L360.8 338.9 L360.9 338.5" style="stroke-width:1.9"/>
<path class="p" d="M363.8 350.4 L364.2 350.6 L364.6 350.7 L365 350.9 L365.3 351.2 L365.6 351.5 L365.9 351.9 L366.1 352.2 L366.2 352.7 L366.3 353.1 L366.3 353.5 L366.3 353.9 L366.1 354.3 L366 354.7 L365.8 355.1 L365.5 355.4 L365.2 355.7 L364.8 356 L364.5 356.2 L364.1 356.3 L363.6 356.4 L363.2 356.4 L362.8 356.4 L362.4 356.3 L362 356.1 L361.6 355.9 L361.3 355.6 L361 355.3 L360.7 354.9 L360.5 354.6 L360.4 354.2 L360.3 353.7 L360.3 353.3 L360.3 352.9" style="stroke-width:1.9"/>
<path class="p" d="M358.5 366.4 L358.9 366.5 L359.3 366.7 L359.7 366.9 L360 367.2 L360.3 367.5 L360.6 367.8 L360.7 368.2 L360.9 368.6 L361 369 L361 369.5 L360.9 369.9 L360.8 370.3 L360.7 370.7 L360.4 371.1 L360.2 371.4 L359.9 371.7 L359.5 371.9 L359.1 372.1 L358.7 372.3 L358.3 372.3 L357.9 372.4 L357.5 372.3 L357 372.2 L356.6 372 L356.3 371.8 L355.9 371.6 L355.7 371.3 L355.4 370.9 L355.2 370.5 L355.1 370.1 L355 369.7 L355 369.3 L355 368.8" style="stroke-width:1.9"/>
<path class="p" d="M350.5 375.4 L350.9 375.6 L351.3 375.7 L351.7 375.9 L352 376.2 L352.3 376.5 L352.6 376.9 L352.8 377.2 L352.9 377.7 L353 378.1 L353 378.5 L353 378.9 L352.9 379.3 L352.7 379.7 L352.5 380.1 L352.2 380.4 L351.9 380.7 L351.5 381 L351.2 381.2 L350.8 381.3 L350.3 381.4 L349.9 381.4 L349.5 381.4 L349.1 381.3 L348.7 381.1 L348.3 380.9 L348 380.6 L347.7 380.3 L347.4 379.9 L347.2 379.6 L347.1 379.2 L347 378.7 L347 378.3 L347 377.9" style="stroke-width:1.9"/>
<path class="p" d="M339.9 385 L340.3 385.1 L340.7 385.3 L341.1 385.5 L341.4 385.8 L341.7 386.1 L341.9 386.4 L342.1 386.8 L342.3 387.2 L342.3 387.6 L342.4 388.1 L342.3 388.5 L342.2 388.9 L342 389.3 L341.8 389.7 L341.6 390 L341.3 390.3 L340.9 390.6 L340.5 390.7 L340.1 390.9 L339.7 391 L339.3 391 L338.8 390.9 L338.4 390.8 L338 390.7 L337.7 390.4 L337.3 390.2 L337 389.9 L336.8 389.5 L336.6 389.1 L336.5 388.7 L336.4 388.3 L336.4 387.9 L336.4 387.5" style="stroke-width:1.9"/>
<path class="p" d="M327.6 385 L328.1 385.1 L328.5 385.3 L328.8 385.5 L329.2 385.8 L329.5 386.1 L329.7 386.4 L329.9 386.8 L330 387.2 L330.1 387.6 L330.1 388.1 L330.1 388.5 L330 388.9 L329.8 389.3 L329.6 389.7 L329.3 390 L329 390.3 L328.7 390.6 L328.3 390.7 L327.9 390.9 L327.5 391 L327 391 L326.6 390.9 L326.2 390.8 L325.8 390.7 L325.4 390.4 L325.1 390.2 L324.8 389.9 L324.6 389.5 L324.4 389.1 L324.2 388.7 L324.1 388.3 L324.1 387.9 L324.2 387.5" style="stroke-width:1.9"/>
<ellipse class="pw" cx="408" cy="399.9" rx="52.4" ry="38.6" transform="rotate(-59.4 408 399.9)"/>
<path class="p" d="M398.8 373.6 L403.4 369.4 L408.2 365.9 L413.2 363.1 L418.3 361.1 L423.3 359.9 L428.1 359.6 L432.7 360.1 L437 361.5 L440.8 363.7 L444.1 366.7 L446.9 370.4 L449 374.7 L450.5 379.6 L451.2 385 L451.3 390.6 L450.6 396.5 L449.2 402.6 L447.1 408.6 L444.4 414.4 L441.2 420 L437.4 425.3 L433.2 430 L428.6 434.2 L423.8 437.7 L418.8 440.5 L413.7 442.5 L408.7 443.7 L403.9 444 L399.3 443.5 L395 442.1 L391.2 439.9 L387.9 436.9 L385.1 433.2"/>
<path class="p" d="M436.2 422.2 L432.5 426.6 L428.5 430.4 L424.3 433.8 L419.9 436.4 L415.4 438.4 L411 439.7 L406.7 440.3 L402.5 440 L398.7 439 L395.2 437.3 L392.1 434.9 L389.5 431.8 L387.5 428.2 L386 424 L385.2 419.4 L384.9 414.4 L385.4 409.2 L386.4 403.9 L388 398.5 L390.2 393.2 L392.9 388.1 L396.1 383.3 L399.7 378.9 L403.7 374.9 L407.9 371.5 L412.2 368.6 L416.7 366.5 L421.1 365.1 L425.5 364.4 L429.7 364.5 L433.6 365.3 L437.1 366.9 L440.3 369.2 L443 372.1 L445.1 375.7 L446.7 379.7 L447.7 384.3"/>
<path class="p" d="M421.1 433.6 L417 435.6 L413 437 L409 437.8 L405.3 437.8 L401.7 437.2 L398.4 435.9 L395.5 434 L393 431.5 L391 428.4 L389.5 424.8 L388.5 420.7 L388.1 416.4 L388.2 411.7 L388.9 406.9 L390.2 402 L391.9 397.2 L394.2 392.4 L396.9 387.8 L400 383.6 L403.4 379.7 L407.1 376.2 L411 373.3 L415 370.9 L419 369.2 L423 368.1" style="stroke-width:2.4"/>
<path class="p" d="M429.2 424.1 L425.8 427.4 L422.2 430.2 L418.5 432.4 L414.8 434.1 L411.1 435.1 L407.6 435.4 L404.3 435.2 L401.2 434.2 L398.5 432.7 L396.2 430.5 L394.3 427.8 L392.9 424.6 L391.9 420.9 L391.5 416.9 L391.6 412.6 L392.3 408.2 L393.5 403.6 L395.1 399 L397.2 394.5 L399.7 390.2 L402.6 386.2 L405.8 382.5 L409.2 379.2 L412.8 376.4 L416.5 374.2 L420.2 372.5 L423.9 371.5 L427.4 371.2 L430.7 371.4 L433.8 372.4 L436.5 373.9 L438.8 376.1 L440.7 378.8"/>
<path class="p" d="M416.3 431.3 L413 432.4 L409.8 433 L406.8 433 L404 432.4 L401.4 431.2 L399.3 429.4 L397.5 427.2 L396.1 424.4 L395.1 421.2 L394.7 417.7 L394.7 413.9 L395.1 409.9 L396.1 405.7 L397.5 401.6 L399.3 397.4 L401.5 393.4 L404 389.6 L406.8 386.1 L409.8 383 L413 380.3 L416.4 378 L419.7 376.3" style="stroke-width:2.2"/>
<path class="p" d="M424.2 423.6 L421.3 425.8 L418.5 427.6 L415.6 428.8 L412.8 429.6 L410.1 429.8 L407.6 429.5 L405.4 428.7 L403.4 427.4 L401.7 425.7 L400.4 423.5 L399.5 420.9 L399 417.9 L398.9 414.7 L399.2 411.2 L399.9 407.7 L401 404 L402.5 400.4 L404.3 396.8 L406.4 393.4 L408.8 390.2 L411.3 387.3 L414.1 384.8 L416.9 382.6 L419.8 380.9 L422.7 379.7 L425.4 379 L428.1 378.8 L430.6 379.1"/>
<path class="p" d="M415.4 426.3 L413.2 426.6 L411 426.6 L409.1 426.1 L407.3 425.2 L405.8 423.8 L404.6 422.2 L403.7 420.1 L403.1 417.8 L402.9 415.2 L402.9 412.4 L403.4 409.4 L404.1 406.4 L405.2 403.3 L406.5 400.3 L408.2 397.3 L410 394.5 L412.1 391.9 L414.3 389.6 L416.6 387.5 L419 385.8 L421.4 384.5 L423.8 383.6 L426.1 383 L428.3 383 L430.3 383.3 L432.1 384.1 L433.7 385.3 L435 386.9 L436 388.8 L436.7 391 L437.1 393.6"/>
<path class="p" d="M417.2 391 L419.3 389.4 L421.3 388.2 L423.4 387.4 L425.5 386.8 L427.4 386.7 L429.3 386.9 L430.9 387.5 L432.4 388.4 L433.7 389.7 L434.7 391.3 L435.4 393.2 L435.8 395.3 L436 397.6 L435.8 400 L435.4 402.6 L434.7 405.2 L433.7 407.8 L432.4 410.3 L431 412.7 L429.3 415 L427.5 417.1 L425.5 418.9 L423.5 420.5 L421.4 421.7 L419.3 422.6 L417.3 423.1 L415.3 423.3 L413.5 423.1 L411.8 422.6 L410.3 421.6 L409 420.4 L408 418.8 L407.2 417 L406.8 414.9 L406.6 412.6 L406.7 410.2 L407.2 407.6 L407.9 405"/>
<path class="p" d="M425.4 419 L423.3 420.6 L421.3 421.8 L419.2 422.6 L417.2 423.2 L415.2 423.3 L413.4 423.1 L411.7 422.5 L410.2 421.6 L409 420.3 L408 418.8 L407.2 416.9 L406.8 414.8 L406.6 412.6 L406.7 410.1 L407.2 407.6 L407.9 405" style="stroke-width:2.6"/>
<path class="p" d="M411.7 417.6 L411.2 416.1 L410.9 414.5 L410.9 412.7 L411.1 410.7 L411.5 408.6 L412.1 406.4 L413 404.3 L414 402.1 L415.2 400 L416.6 398.1 L418.1 396.2 L419.6 394.6 L421.2 393.2 L422.9 392 L424.5 391.1 L426.1 390.4"/>
<!-- 30_spacer_brg5_shim.svg -->
<path class="pw" d="M284.6 650.4 C284.1 646.3 285.1 643.7 286.2 640.9 C287.2 638 288.7 635.6 291 633.4 C293.2 631.2 296.3 629.3 299.5 627.6 C302.7 625.8 306.6 623.2 310.1 622.8 C313.7 622.3 316.7 623.1 320.7 624.9 C324.8 626.7 330.3 628.8 334.6 633.4 C338.8 638 343.4 645.8 346.3 652.6 C349.1 659.3 351.1 668 351.6 673.8 C352.1 679.7 351.2 684.1 349.5 687.7 C347.7 691.2 344 692.8 341 695.1 C337.9 697.4 334.8 699.9 331.4 701.5 C328 703.1 323.8 704.5 320.7 704.7 C317.7 704.9 315.4 703.6 313.3 702.6 C311.2 701.5 310.3 701.3 308 698.3 C305.7 695.3 302.7 690 299.5 684.5 C296.3 679 291.3 671 288.8 665.3 C286.3 659.6 285 654.5 284.6 650.4 Z"/>
<path class="p" d="M299.5 630.2 C301.1 630.4 305.9 629.9 309 631.3 C312.2 632.7 317 637.5 318.6 638.7"/>
<path class="p" d="M288.8 647.2 C289.5 646.2 291 642.3 293.1 640.9 C295.2 639.4 298.6 638.5 301.6 638.7 C304.6 638.9 308 640 311.2 641.9 C314.4 643.9 318.1 647.2 320.7 650.4 C323.4 653.6 325.4 657.2 327.1 661.1 C328.9 665 330.7 669.6 331.4 673.8 C332.1 678.1 332.1 683.2 331.4 686.6 C330.7 690 329.3 692.3 327.1 694 C325 695.8 321.5 697.2 318.6 697.2 C315.8 697.2 311.5 694.6 310.1 694"/>
<path class="p" d="M288.8 654.7 C289.5 653.3 291 647.9 293.1 646.2 C295.2 644.4 298.8 644 301.6 644 C304.4 644 308.7 645.8 310.1 646.2"/>
<path class="p" d="M313.3 648.3 C314.5 649.4 318.4 651.5 320.7 654.7 C323 657.9 325.7 663.2 327.1 667.4 C328.5 671.7 329.4 676.5 329.3 680.2 C329.1 683.9 327.7 687.7 326.1 689.8 C324.5 691.9 322.2 692.8 319.7 693 C317.2 693.2 312.6 691.2 311.2 690.9" style="stroke-width:2.6"/>
<path class="p" d="M296.3 654.7 C297.2 654.1 299.5 651.8 301.6 651.5 C303.7 651.1 306.7 651.1 309 652.6 C311.3 654 313.5 656.8 315.4 660 C317.4 663.2 319.7 668 320.7 671.7 C321.8 675.4 322.3 679.9 321.8 682.3 C321.3 684.8 319.1 686 317.6 686.6 C316 687.2 313.1 686.2 312.2 686.1"/>
<path class="p" d="M303.7 654.7 C304.1 656.5 304.4 661.6 305.9 665.3 C307.3 669 310.1 674.2 312.2 677 C314.4 679.9 317.6 681.5 318.6 682.3"/>
<path class="p" d="M309 654.7 C310.3 656.5 314.5 661.4 316.5 665.3 C318.4 669.2 320 676 320.7 678.1"/>
<path class="p" d="M332.4 662.1 C333.2 664.1 335.8 669.8 336.7 673.8 C337.6 677.9 338.1 683 337.8 686.6 C337.4 690.1 335.1 693.7 334.6 695.1"/>
<path class="p" d="M308 698.3 C309 698.5 311.9 699.5 314.4 699.4 C316.8 699.2 320.7 698.3 322.9 697.2 C325 696.2 326.4 693.7 327.1 693"/>
<path class="p" d="M323.9 665.3 C324.5 666.7 326.4 671 327.1 673.8 C327.8 676.7 328 680.9 328.2 682.3" style="stroke-width:2.4"/>
<path class="pw" d="M244.1 684.5 L266.5 671.7 L268.6 663.2 L282.4 660.9 L288.8 659.8 L301.6 669.6 L306.9 684.5 L306.9 690.9 L298.4 700.4 L291 705.7 L283.5 704.7 L260.1 717.4 L251.6 719.6 L241 710 L235.6 695.1 L238.8 687.7 Z"/>
<ellipse class="pw" cx="248.9" cy="703.1" rx="17.6" ry="9.6" transform="rotate(60 248.9 703.1)"/>
<path class="p" d="M237.2 692.3 L237.7 690.7 L238.5 689.4 L239.4 688.3 L240.6 687.6 L242 687.2 L243.5 687.1 L245.1 687.4 L246.8 688 L248.6 688.9 L250.3 690.1 L252.1 691.6 L253.7 693.4 L255.3 695.3 L256.7 697.4 L258 699.6 L259.1 701.9 L259.9 704.3 L260.5 706.5" style="stroke-width:3"/>
<path class="pt" d="M259.7 706.5 L260.1 708.4 L260.2 710.2 L260.2 711.8 L260 713.3 L259.5 714.6 L258.9 715.6 L258 716.4 L257.1 716.9 L255.9 717.1 L254.7 717.1 L253.3 716.7 L251.9 716.1 L250.4 715.2 L249 714.1 L247.5 712.7 L246.1 711.2 L244.8 709.5 L243.6 707.6 L242.5 705.7 L241.5 703.7 L240.8 701.7 L240.2 699.7"/>
<path class="p" d="M282.4 661.1 C284.4 663.2 291.3 669 294.1 673.8 C297 678.6 298.8 685.4 299.5 689.8 C300.2 694.2 298.6 698.7 298.4 700.4"/>
<path class="p" d="M270.7 670.6 C271.5 670.9 273.6 671.3 275 672.2 C276.4 673.1 278.5 675.3 279.3 676"/>
<path class="p" d="M284.6 682.3 C285.1 684.1 287.4 689.6 287.8 693 C288.1 696.3 286.9 701 286.7 702.6"/>
<path class="pw" d="M336.2 631.3 C336.2 628.7 340.7 627.2 343.1 626.5 C345.5 625.8 348 625.9 350.5 627 C353 628.2 355.7 630.4 358 633.4 C360.3 636.4 363.3 641.4 364.4 645.1 C365.4 648.8 365.1 653.3 364.4 655.7 C363.7 658.2 361.9 659.1 360.1 660 C358.3 660.9 355.5 662 353.7 661.1 C352 660.2 351.2 657.9 349.5 654.7 C347.7 651.5 345.3 645.8 343.1 641.9 C340.9 638 336.2 633.8 336.2 631.3 Z"/>
<path class="p" d="M341.5 636.6 C342.5 636.2 345.1 633.6 347.3 634.5 C349.6 635.4 353 638.9 354.8 641.9 C356.6 644.9 358.2 650.2 358 652.6 C357.8 654.9 355.1 655.9 353.7 656.3 C352.3 656.6 350.2 654.9 349.5 654.7"/>
<path class="pt" d="M354.3 634.5 C355.2 636.1 358.9 640.7 360.1 644 C361.3 647.4 361.4 652.9 361.7 654.7"/>
<!-- 31_pinionshaft.svg -->
<path class="pw" d="M476.4 540.5 L475.7 533.5 L481.2 526.5 L492.4 523.7 L492.4 520.2 L502.2 518.2 L514.8 517.5 L531.5 520.2 L537.1 526.5 L542.7 537.7 L545.5 540.5 L545.5 553.1 L537.1 565.6 L531.5 572.6 L527.3 581 L521.7 585.2 L514.8 583.8 L503.6 582.4 L489.6 587.3 L472.9 555.9 Z"/>
<path class="p" d="M492.4 523.7 C493.8 524.4 498 524.2 500.8 527.9 C503.6 531.6 507.5 542.1 509.2 546.1 C510.8 550 510.3 550.7 510.6 551.7" style="stroke-width:2"/>
<path class="p" d="M496.6 527.9 C496.4 529.3 494.5 534.7 495.2 536.3 C495.9 537.9 499.9 537.5 500.8 537.7" style="stroke-width:2"/>
<path class="p" d="M509.2 520.2 C511.3 522.7 518.9 530.4 521.7 534.9 C524.5 539.4 525.9 544 525.9 547.5 C525.9 551 523.6 554.5 521.7 555.9 C519.9 557.2 516 556.4 514.8 555.9 C513.5 555.3 513.1 553.3 514.1 552.4 C515 551.4 519.3 550.6 520.3 550.3" style="stroke-width:2"/>
<path class="p" d="M510.6 525.1 L515.5 528.6" style="stroke-width:2.4"/>
<path class="p" d="M518.9 534.9 L524.5 546.1" style="stroke-width:3"/>
<path class="p" d="M521.7 521.6 C523.4 524.1 529.4 530.6 531.5 536.3 C533.6 542 533.8 552.6 534.3 555.9" style="stroke-width:2"/>
<path class="p" d="M524.5 523.7 L530.1 530.7" style="stroke-width:2.4"/>
<path class="p" d="M537.1 541.9 C536.6 545.1 535.2 556.8 534.3 561.4 C533.4 566.1 532 568.4 531.5 569.8" style="stroke-width:3"/>
<path class="p" d="M542.7 540.5 L542.7 555.9" style="stroke-width:2.6"/>
<path class="p" d="M539.9 540.5 L538.5 558.6" style="stroke-width:1.6"/>
<path class="p" d="M520.3 561.4 L517.6 575.4" style="stroke-width:1.8"/>
<path class="p" d="M524.5 560 L523.1 576.8" style="stroke-width:1.8"/>
<path class="p" d="M518.9 583.8 L524.5 580.3" style="stroke-width:2"/>
<path class="p" d="M535.7 560 L538.5 561.4" style="stroke-width:2.4"/>
<path class="p" d="M500.8 534.9 C502 536.1 506.1 539.1 507.8 541.9 C509.4 544.7 510.1 550 510.6 551.7" style="stroke-width:1.6"/>
<path class="pw" d="M471.5 553.1 C470.5 548.9 469.4 549.1 470.1 547.5 C470.8 545.8 473.3 544 475.7 543.3 C478 542.6 480.8 542.1 484 543.3 C487.3 544.4 492.2 547.2 495.2 550.3 C498.2 553.3 500.8 556.3 502.2 561.4 C503.6 566.6 504.3 576.8 503.6 581 C502.9 585.2 500.3 585.5 498 586.6 C495.7 587.6 493.3 589.6 489.6 587.3 C485.9 584.9 478.7 578.3 475.7 572.6 C472.6 566.9 472.4 557.2 471.5 553.1 Z"/>
<path class="p" d="M472.9 551.7 C474.5 551.3 479.2 548.2 482.6 549.6 C486.1 551 491.3 555.7 493.8 560 C496.4 564.3 497.8 571.4 498 575.4 C498.2 579.4 495.7 582.4 495.2 583.8"/>
<path class="pw" d="M428.2 582.4 L451.9 569.8 L453.3 565.6 L471.5 553.1 L484 555.9 L495.2 572.6 L489.6 587.3 L451.9 603.3 L440.8 608.9 L422.6 621.5 L417 622.9 L391.9 634.7 L368.2 646.6 L357 627.8 L377.9 614.5 L410 596.3 L414.2 590.8 Z"/>
<path class="p" d="M431 583.8 C432.1 585.6 436.3 590.8 438 594.9 C439.6 599.1 440.3 606.6 440.8 608.9"/>
<path class="p" d="M453.3 569.8 C454.3 570.3 457.5 571.6 458.9 572.6 C460.3 573.7 461.2 575.5 461.7 576.1"/>
<path class="p" d="M460.3 562.8 C461.5 563.4 465.2 564.9 467.3 566.3 C469.4 567.7 471.9 570.4 472.9 571.2"/>
<path class="p" d="M475.7 578.2 C475.9 579.1 476.8 581.7 477.1 583.8 C477.3 585.9 477.1 589.6 477.1 590.8"/>
<path class="p" d="M466.6 583.8 L467.3 594.9"/>
<path class="p" d="M413.5 590.8 C414.1 591.5 416.2 593.8 417 594.9 C417.8 596.1 418.2 597.3 418.4 597.7" style="stroke-width:2.4"/>
<path class="p" d="M422.6 604.7 C423 605.9 424.5 609.1 424.7 611.7 C424.9 614.3 424.1 618.7 424 620.1"/>
<path class="p" d="M377.9 614.5 C378.6 615.2 381 616.8 382.1 618.7 C383.3 620.5 383.3 623 384.9 625.7 C386.5 628.3 390.7 633.2 391.9 634.7"/>
<path class="p" d="M389.1 617.3 L411.4 599.8 L416.3 604 L417 615.9 L393.3 629.2 L389.8 624.3" style="stroke-width:2"/>
<path class="p" d="M391.9 620.1 L412.8 606.1" style="stroke-width:3"/>
<path class="p" d="M393 623.6 L413.9 609.6" style="stroke-width:3"/>
<path class="p" d="M394.1 627.1 L415.1 613.1" style="stroke-width:3"/>
<path class="p" d="M377.2 613.8 L410 596.3" style="stroke-width:2.6"/>
<path class="p" d="M364 626.4 L380 618.7 L383.5 622.9 L366.8 631.2 Z" style="stroke-width:3.4"/>
<path class="p" d="M370.9 637.5 L387.7 628.5 L389.8 633.3 L372.3 642.4 Z" style="stroke-width:3"/>
<path class="p" d="M373.7 636.1 L375.1 641" style="stroke-width:2"/>
<path class="p" d="M366.8 625.7 L368.8 630.6" style="stroke-width:2"/>
<path class="p" d="M376.8 634.6 L378.2 639.5" style="stroke-width:2"/>
<path class="p" d="M369.8 624.1 L371.9 629" style="stroke-width:2"/>
<path class="p" d="M379.9 633.1 L381.3 638" style="stroke-width:2"/>
<path class="p" d="M372.9 622.6 L375 627.5" style="stroke-width:2"/>
<path class="p" d="M383 631.5 L384.3 636.4" style="stroke-width:2"/>
<path class="p" d="M376 621.1 L378.1 625.9" style="stroke-width:2"/>
<path class="p" d="M386 630 L387.4 634.9" style="stroke-width:2"/>
<path class="p" d="M379 619.5 L381.1 624.4" style="stroke-width:2"/>
<!-- 32_ringgear.svg -->
<path class="pw" d="M587.4 636.1 C581.5 639.1 571.9 627.2 565.9 623.5 C559.9 619.8 554.9 618.9 551.5 614 C548.2 609 547.1 599 545.6 593.6 C544.1 588.2 542.9 585.6 542.6 581.6 C542.3 577.7 542.9 574.5 543.8 569.7 C544.7 564.9 542.3 554.9 548 552.9 C553.6 550.9 568.9 548.9 577.9 557.7 C586.8 566.5 600.2 592.5 601.8 605.6 C603.4 618.6 593.4 633.1 587.4 636.1 Z"/>
<ellipse class="pw" cx="643.1" cy="463.2" rx="4.1" ry="3.5" transform="rotate(-50 643.1 463.2)" style="stroke-width:1.8"/>
<ellipse class="pw" cx="633.9" cy="463.4" rx="5.3" ry="4.5" transform="rotate(-50 633.9 463.4)" style="stroke-width:1.8"/>
<ellipse class="pw" cx="622.4" cy="466.2" rx="5.3" ry="4.5" transform="rotate(-50 622.4 466.2)" style="stroke-width:1.8"/>
<ellipse class="pw" cx="611.1" cy="472.1" rx="5.5" ry="4.7" transform="rotate(-50 611.1 472.1)" style="stroke-width:1.8"/>
<ellipse class="pw" cx="600.4" cy="479.9" rx="5.7" ry="4.9" transform="rotate(-50 600.4 479.9)" style="stroke-width:1.8"/>
<ellipse class="pw" cx="589.6" cy="489.7" rx="6" ry="5.1" transform="rotate(-50 589.6 489.7)" style="stroke-width:1.8"/>
<ellipse class="pw" cx="578.3" cy="503.9" rx="6.2" ry="5.3" transform="rotate(-50 578.3 503.9)" style="stroke-width:1.8"/>
<ellipse class="pw" cx="567.1" cy="519.4" rx="6.2" ry="5.3" transform="rotate(-50 567.1 519.4)" style="stroke-width:1.8"/>
<ellipse class="pw" cx="558.7" cy="535.2" rx="5.5" ry="4.7" transform="rotate(-50 558.7 535.2)" style="stroke-width:1.8"/>
<ellipse class="pw" cx="552.7" cy="549.9" rx="4.5" ry="3.9" transform="rotate(-50 552.7 549.9)" style="stroke-width:1.8"/>
<ellipse class="pw" cx="548.2" cy="561.9" rx="3.8" ry="3.3" transform="rotate(-50 548.2 561.9)" style="stroke-width:1.8"/>
<ellipse class="pw" cx="545.8" cy="571.5" rx="3.4" ry="2.8" transform="rotate(-50 545.8 571.5)" style="stroke-width:1.8"/>
<ellipse class="pw" cx="545" cy="581" rx="3.1" ry="2.6" transform="rotate(-50 545 581)" style="stroke-width:1.8"/>
<ellipse class="pw" cx="545.6" cy="590.6" rx="3.1" ry="2.6" transform="rotate(-50 545.6 590.6)" style="stroke-width:1.8"/>
<ellipse class="pw" cx="548" cy="602" rx="3.1" ry="2.6" transform="rotate(-50 548 602)" style="stroke-width:1.8"/>
<ellipse class="pw" cx="551.5" cy="611" rx="2.9" ry="2.4" transform="rotate(-50 551.5 611)" style="stroke-width:1.8"/>
<ellipse class="pw" cx="625.4" cy="549.3" rx="91.4" ry="59.8" transform="rotate(-67 625.4 549.3)"/>
<path class="p" d="M625.7 481.1 C628.1 479.9 634.5 475.5 640.1 473.9 C645.7 472.3 654.1 471.5 659.2 471.5 C664.4 471.5 669.2 473.5 671.2 473.9"/>
<path class="p" d="M625.7 497.9 C627.7 496.7 632.5 492.6 637.7 490.7 C642.9 488.8 650.9 486.3 656.9 486.5 C662.8 486.7 669 488 673.6 491.9 C678.2 495.8 682.1 503.1 684.4 509.8 C686.7 516.6 686.9 528.8 687.4 532.6"/>
<path class="p" d="M605.4 517.6 C602.8 521.9 594.2 534.7 589.8 543.3 C585.4 552 581.3 560.3 579.1 569.7 C576.9 579 575.5 591.6 576.7 599.6 C577.9 607.6 582.5 613 586.2 617.5 C590 622.1 594.4 625.7 599.4 627.1 C604.4 628.5 609.2 628.1 616.2 625.9 C623.1 623.7 637.1 615.9 641.3 614"/>
<path class="p" d="M577.9 532.6 C575.7 537.8 567.7 553.5 564.7 563.7 C561.7 573.9 559.7 584 559.9 593.6 C560.1 603.2 564.9 616.5 565.9 621.1"/>
<path class="p" d="M688 517 L689.8 531.4" style="stroke-width:3"/>
<path class="pw" d="M594.6 575.7 C595.8 569.1 598 554.3 601.8 545.7 C605.6 537.2 612 529.8 617.4 524.2 C622.7 518.6 629.5 514.8 634.1 512.2 C638.7 509.6 641.9 507.8 644.9 508.6 C647.9 509.4 650.7 512.8 652.1 517 C653.5 521.2 654.1 527.8 653.3 533.8 C652.5 539.8 650.3 546.5 647.3 552.9 C644.3 559.3 639.7 566.5 635.3 572.1 C630.9 577.7 625.5 582.8 621 586.4 C616.4 590 611.6 592.4 607.8 593.6 C604 594.8 600.4 595 598.2 593.6 C596 592.2 595.2 588.2 594.6 585.2 C594 582.2 593.4 582.2 594.6 575.7 Z"/>
<path class="p" d="M644.9 508.6 C647.7 508.8 657.3 507.6 661.6 509.8 C666 512 669.4 516.2 671.2 521.8 C673 527.4 673.4 536.4 672.4 543.3 C671.4 550.3 668.2 557.3 665.2 563.7 C662.2 570.1 656.3 578.7 654.5 581.6"/>
<path class="p" d="M647.3 588.8 C646.1 590.2 644.1 594.4 640.1 597.2 C636.1 600 628.9 604.4 623.3 605.6 C617.8 606.8 610.8 606.1 606.6 604.4 C602.4 602.7 599.6 596.9 598.2 595.4"/>
<path class="pt" d="M649.7 514.6 C649.9 517.8 651.7 527.4 650.9 533.8 C650.1 540.2 647.9 546.5 644.9 552.9 C641.9 559.3 637.3 566.7 632.9 572.1 C628.5 577.5 622.1 582 618.6 585.2 C615 588.4 612.6 590.2 611.4 591.2"/>
<path class="p" d="M669.4 526.6 L670 543.3" style="stroke-width:2.6"/>
<ellipse class="p" cx="634.1" cy="503.3" rx="2.6" ry="4.2" transform="rotate(35 634.1 503.3)" style="stroke-width:2"/>
<ellipse class="p" cx="662.8" cy="500.3" rx="2.6" ry="4.2" transform="rotate(35 662.8 500.3)" style="stroke-width:2"/>
<ellipse class="p" cx="678.4" cy="521.8" rx="2.6" ry="4.2" transform="rotate(35 678.4 521.8)" style="stroke-width:2"/>
<ellipse class="p" cx="675.4" cy="551.7" rx="2.6" ry="4.2" transform="rotate(35 675.4 551.7)" style="stroke-width:2"/>
<ellipse class="p" cx="658.1" cy="582.8" rx="2.6" ry="4.2" transform="rotate(35 658.1 582.8)" style="stroke-width:2"/>
<ellipse class="p" cx="634.1" cy="608" rx="2.6" ry="4.2" transform="rotate(35 634.1 608)" style="stroke-width:2"/>
<ellipse class="p" cx="609.6" cy="614" rx="2.6" ry="4.2" transform="rotate(35 609.6 614)" style="stroke-width:2"/>
<ellipse class="p" cx="588.6" cy="599.6" rx="2.6" ry="4.2" transform="rotate(35 588.6 599.6)" style="stroke-width:2"/>
<ellipse class="p" cx="589.2" cy="563.7" rx="2.6" ry="4.2" transform="rotate(35 589.2 563.7)" style="stroke-width:2"/>
<ellipse class="p" cx="606" cy="529.6" rx="2.6" ry="4.2" transform="rotate(35 606 529.6)" style="stroke-width:2"/>
<!-- 33_cases.svg -->
<path class="pw" d="M730.2 580.3 C722.2 577.7 699.6 594.1 691.9 597.9 C684.2 601.6 685.5 598.1 683.9 602.7 C682.3 607.2 681.8 617.3 682.3 625 C682.9 632.7 685.8 640.7 687.1 648.9 C688.5 657.2 684.2 672.3 690.3 674.5 C696.4 676.6 715.6 671.8 723.8 661.7 C732.1 651.6 738.7 627.4 739.8 613.8 C740.8 600.3 738.2 583 730.2 580.3 Z"/>
<path class="p" d="M685.5 602.7 C686.6 602.1 690.5 599.2 691.9 599.5 C693.4 599.7 694.6 602.4 694.3 604.3 C694 606.1 691.8 609.8 690.3 610.6 C688.9 611.4 686.3 609.3 685.5 609"/>
<path class="p" d="M683.9 609 L698.3 615.4"/>
<ellipse class="pw" cx="751" cy="642.5" rx="77.6" ry="55.8" transform="rotate(-59.4 751 642.5)"/>
<path class="p" d="M688.8 663.7 L689.4 653.4 L691.3 642.9 L694.4 632.4 L698.7 622 L704.1 612.2 L710.6 602.9 L717.8 594.5 L725.8 587.1 L734.3 580.9 L743.2 576 L752.2 572.5 L761.2 570.5" style="stroke-width:2.8"/>
<path class="p" d="M740.8 714.5 L732 715.1 L723.6 714 L715.8 711.5 L708.8 707.5 L702.6 702.2 L697.5 695.6" style="stroke-width:2.8"/>
<path class="pw" d="M718.2 658.5 C719 652.7 720.2 640.7 723.8 633 C727.4 625.3 733.9 617.5 739.8 612.2 C745.6 606.9 752.5 602.7 758.9 601.1 C765.3 599.5 773 600.5 778.1 602.7 C783.1 604.8 786.9 610.1 789.2 613.8 C791.6 617.5 795.4 614.4 792.4 625 C789.5 635.6 777.3 667.3 771.7 677.7 C766.1 688 763.7 685.5 758.9 687.2 C754.1 689 748.3 689.4 743 688 C737.7 686.7 731 682.6 727 679.2 C723 675.9 720.5 671.5 719 668.1 C717.6 664.6 717.4 664.4 718.2 658.5 Z"/>
<path class="p" d="M746.2 605.8 L746.2 623.4 L762.1 626.6"/>
<path class="p" d="M738.2 613.8 L736.6 629.8 L722.2 641"/>
<path class="p" d="M720.6 650.5 L736.6 642.5 L747 654.5"/>
<path class="p" d="M758.9 601.1 C759.7 603.2 763.2 608.5 763.7 613.8 C764.2 619.1 764.5 626.3 762.1 633 C759.7 639.6 756.3 647.9 749.4 653.7 C742.4 659.6 725.4 665.7 720.6 668.1"/>
<path class="p" d="M770.1 603.5 C771.7 605.7 777.5 611.6 779.7 617 C781.8 622.5 782.3 633 782.9 636.2"/>
<path class="p" d="M774.9 602.7 C777 605.3 785.1 613.6 787.7 618.6 C790.2 623.7 789.6 630.6 790 633"/>
<path class="p" d="M762.1 671.3 C758.9 672.6 749.4 678.5 743 679.2 C736.6 680 727 676.6 723.8 676.1"/>
<path class="p" d="M753.8 586.6 L753.6 587.3 L753.4 587.9 L753.1 588.5 L752.8 589 L752.4 589.6 L751.9 590 L751.5 590.4 L751 590.7 L750.4 590.9 L749.9 591.1 L749.4 591.1 L748.9 591.1 L748.4 591 L748 590.7 L747.6 590.4 L747.2 590.1 L746.9 589.6 L746.7 589.1 L746.6 588.6 L746.5 588 L746.5 587.4 L746.6 586.8 L746.7 586.1 L746.9 585.5 L747.2 584.9 L747.5 584.4 L747.9 583.9 L748.4 583.4 L748.8 583 L749.3 582.7 L749.9 582.5 L750.4 582.3 L750.9 582.3" style="stroke-width:2.2"/>
<path class="p" d="M783.3 582.7 L783.1 583.3 L782.9 583.9 L782.6 584.5 L782.3 585.1 L781.9 585.6 L781.5 586 L781 586.4 L780.5 586.7 L780 586.9 L779.4 587.1 L778.9 587.1 L778.4 587.1 L777.9 587 L777.5 586.8 L777.1 586.5 L776.7 586.1 L776.5 585.6 L776.2 585.1 L776.1 584.6 L776 584 L776 583.4 L776.1 582.8 L776.2 582.1 L776.4 581.5 L776.7 580.9 L777.1 580.4 L777.4 579.9 L777.9 579.4 L778.4 579 L778.9 578.7 L779.4 578.5 L779.9 578.3 L780.4 578.3" style="stroke-width:2.2"/>
<path class="p" d="M803.2 597 L803.1 597.6 L802.9 598.3 L802.6 598.9 L802.2 599.4 L801.8 599.9 L801.4 600.4 L800.9 600.8 L800.4 601.1 L799.9 601.3 L799.4 601.4 L798.9 601.5 L798.4 601.5 L797.9 601.3 L797.4 601.1 L797 600.8 L796.7 600.4 L796.4 600 L796.2 599.5 L796 599 L795.9 598.4 L795.9 597.8 L796 597.1 L796.2 596.5 L796.4 595.9 L796.7 595.3 L797 594.7 L797.4 594.2 L797.8 593.8 L798.3 593.4 L798.8 593.1 L799.3 592.9 L799.9 592.7 L800.4 592.7" style="stroke-width:2.2"/>
<path class="p" d="M725 606.6 L724.9 607.2 L724.7 607.8 L724.4 608.4 L724.1 609 L723.7 609.5 L723.2 609.9 L722.7 610.3 L722.2 610.6 L721.7 610.9 L721.2 611 L720.7 611.1 L720.2 611 L719.7 610.9 L719.2 610.7 L718.8 610.4 L718.5 610 L718.2 609.6 L718 609.1 L717.8 608.5 L717.8 607.9 L717.8 607.3 L717.8 606.7 L718 606.1 L718.2 605.5 L718.5 604.9 L718.8 604.3 L719.2 603.8 L719.6 603.3 L720.1 603 L720.6 602.7 L721.1 602.4 L721.7 602.3 L722.2 602.2" style="stroke-width:2.2"/>
<path class="p" d="M708.3 639.3 L708.1 639.9 L707.9 640.5 L707.6 641.1 L707.3 641.7 L706.9 642.2 L706.5 642.7 L706 643 L705.5 643.4 L705 643.6 L704.4 643.7 L703.9 643.8 L703.4 643.7 L702.9 643.6 L702.5 643.4 L702.1 643.1 L701.7 642.7 L701.5 642.3 L701.2 641.8 L701.1 641.2 L701 640.7 L701 640 L701.1 639.4 L701.2 638.8 L701.4 638.2 L701.7 637.6 L702.1 637 L702.5 636.5 L702.9 636.1 L703.4 635.7 L703.9 635.4 L704.4 635.1 L704.9 635 L705.4 634.9" style="stroke-width:2.2"/>
<path class="p" d="M706.7 673.6 L706.5 674.2 L706.3 674.9 L706 675.4 L705.7 676 L705.3 676.5 L704.9 677 L704.4 677.3 L703.9 677.7 L703.4 677.9 L702.8 678 L702.3 678.1 L701.8 678 L701.3 677.9 L700.9 677.7 L700.5 677.4 L700.2 677 L699.9 676.6 L699.6 676.1 L699.5 675.5 L699.4 675 L699.4 674.3 L699.5 673.7 L699.6 673.1 L699.8 672.5 L700.1 671.9 L700.5 671.3 L700.9 670.8 L701.3 670.4 L701.8 670 L702.3 669.7 L702.8 669.4 L703.3 669.3 L703.8 669.2" style="stroke-width:2.2"/>
<path class="p" d="M721 695.9 L720.9 696.6 L720.7 697.2 L720.4 697.8 L720.1 698.3 L719.7 698.9 L719.2 699.3 L718.8 699.7 L718.3 700 L717.7 700.2 L717.2 700.4 L716.7 700.4 L716.2 700.4 L715.7 700.3 L715.3 700 L714.9 699.7 L714.5 699.4 L714.2 698.9 L714 698.4 L713.9 697.9 L713.8 697.3 L713.8 696.7 L713.8 696.1 L714 695.4 L714.2 694.8 L714.5 694.2 L714.8 693.7 L715.2 693.2 L715.7 692.7 L716.1 692.3 L716.6 692 L717.2 691.8 L717.7 691.6 L718.2 691.6" style="stroke-width:2.2"/>
<path class="p" d="M745.8 704.7 L745.6 705.4 L745.4 706 L745.1 706.6 L744.8 707.1 L744.4 707.6 L744 708.1 L743.5 708.5 L743 708.8 L742.5 709 L741.9 709.1 L741.4 709.2 L740.9 709.2 L740.4 709 L740 708.8 L739.6 708.5 L739.2 708.2 L739 707.7 L738.7 707.2 L738.6 706.7 L738.5 706.1 L738.5 705.5 L738.6 704.8 L738.7 704.2 L738.9 703.6 L739.2 703 L739.6 702.4 L739.9 701.9 L740.4 701.5 L740.9 701.1 L741.4 700.8 L741.9 700.6 L742.4 700.4 L742.9 700.4" style="stroke-width:2.2"/>
<path class="p" d="M771.7 640.2 C772.2 641.1 775.2 643.2 774.9 645.7 C774.6 648.3 771.7 653.6 770.1 655.3 C768.5 657 766.1 656 765.3 656.1" style="stroke-width:2.2"/>
<ellipse class="k" cx="791.6" cy="588.3" rx="2.3" ry="2.6"/>
<ellipse class="k" cx="711.1" cy="621.8" rx="2.3" ry="2.6"/>
<ellipse class="k" cx="728.6" cy="703.2" rx="2.3" ry="2.6"/>
<path class="p" d="M807.2 756.2 L797.7 756.3 L788.7 754.7 L780.5 751.5 L773.3 746.7 L767.1 740.4 L762.2 732.8 L758.6 724 L756.4 714.2 L755.7 703.7 L756.5 692.6 L758.8 681.3 L762.5 669.9 L767.5 658.7"/>
<ellipse class="pw" cx="826.3" cy="677.6" rx="84.5" ry="59" transform="rotate(-55.9 826.3 677.6)"/>
<path class="p" d="M796.6 622.6 L806.1 615.1 L816 609 L826.1 604.4 L836.2 601.5 L846.2 600.2 L855.6 600.7 L864.5 602.9" style="stroke-width:2.6"/>
<path class="p" d="M789.4 749.6 L781.4 745.6 L774.5 740 L768.9 732.9 L764.7 724.4 L762 714.7"/>
<ellipse class="p" cx="831.5" cy="682.1" rx="60" ry="40.5" transform="rotate(-56 831.5 682.1)"/>
<path class="p" d="M819.6 733.6 L813.6 733.9 L808 733 L802.8 731.2 L798.2 728.3 L794.2 724.5 L791.1 719.8 L788.7 714.4 L787.3 708.3 L786.7 701.6 L787 694.6 L788.3 687.3"/>
<path class="p" d="M819.2 637.6 L826.5 633.2 L834 630 L841.4 628 L848.5 627.4 L855.2 628.2" style="stroke-width:2.8"/>
<path class="p" d="M811.6 706.4 C811.6 703.4 810.3 694.7 811.6 688.8 C812.9 683 815.6 676.1 819.6 671.3 C823.6 666.5 830.2 662.2 835.5 660.1 C840.8 658 847 657.2 851.5 658.5 C856 659.8 860.8 666.5 862.6 668.1"/>
<path class="p" d="M818 703.2 C818.2 700.5 817.7 692.5 819.6 687.2 C821.4 681.9 825.2 675.3 829.1 671.3 C833.1 667.3 839 664.4 843.5 663.3 C848 662.2 854.1 664.6 856.3 664.9"/>
<path class="p" d="M811.6 706.4 C812.9 707.2 816.1 710.4 819.6 711.2 C823 712 830.2 711.2 832.3 711.2"/>
<path class="p" d="M814 695.2 L815.6 703.2" style="stroke-width:2.4"/>
<ellipse class="pw" cx="851.5" cy="694.4" rx="20.5" ry="14" transform="rotate(-56 851.5 694.4)"/>
<path class="p" d="M858.9 706.1 L856.9 708.2 L854.7 710 L852.4 711.6 L850.1 712.8 L847.7 713.6 L845.4 714 L843.1 714.1 L841 713.7 L839.1 713 L837.4 711.9 L835.9 710.5 L834.7 708.7 L833.9 706.7 L833.4 704.4 L833.2 701.9 L833.3 699.3 L833.8 696.6 L834.7 693.9"/>
<path class="p" d="M849.9 674.5 C851.5 674.2 856.5 672.3 859.5 672.9 C862.4 673.4 865.8 675 867.4 677.7 C869 680.3 868.8 687 869 688.8"/>
<path class="p" d="M833.1 701.6 C833.3 702.9 832.7 707.4 833.9 709.6 C835.1 711.7 839.2 713.6 840.3 714.4" style="stroke-width:2.4"/>
<path class="p" d="M819.6 653.7 L840.3 644.1 L845.1 645.7 L840.3 653.7 L822.8 660.1 Z"/>
<path class="p" d="M835.5 644.1 L846.7 643.3" style="stroke-width:2.4"/>
<path class="p" d="M798.8 690.4 C800.4 688.6 804.9 685.1 806.8 687.2 C808.7 689.4 810.5 698.9 810 703.2 C809.5 707.4 805.3 711.7 803.6 712.8 C801.9 713.8 800.7 712 799.6 709.6 C798.6 707.2 797.4 701.6 797.2 698.4 C797.1 695.2 797.2 692.3 798.8 690.4 Z"/>
<path class="p" d="M803.6 712.8 C804.4 712.8 807.3 713.3 808.4 712.8 C809.5 712.2 809.7 710.1 810 709.6"/>
<path class="p" d="M827.5 715.9 L841.9 715.9 L829.1 724.7 Z" style="stroke-width:2.4"/>
<path class="p" d="M867.4 656.9 C866.4 657.2 862.4 656.6 861.1 658.5 C859.7 660.4 859.2 666 859.5 668.1 C859.7 670.2 862.1 670.7 862.6 671.3" style="stroke-width:2.2"/>
<path class="p" d="M851.5 673.7 C852.5 673.3 855.5 671.4 857.9 671.3 C860.3 671.1 864.5 672.6 865.8 672.9"/>
<path class="p" d="M828.3 620.1 L828.1 620.8 L827.9 621.5 L827.6 622.1 L827.2 622.8 L826.8 623.3 L826.3 623.8 L825.8 624.2 L825.2 624.6 L824.7 624.8 L824.1 625 L823.5 625 L823 625 L822.5 624.8 L822 624.6 L821.5 624.3 L821.2 623.9 L820.9 623.4 L820.6 622.9 L820.4 622.3 L820.4 621.6 L820.4 621 L820.4 620.3 L820.6 619.6 L820.8 618.9 L821.1 618.3 L821.5 617.7 L821.9 617.1 L822.4 616.6 L822.9 616.2 L823.5 615.9 L824 615.6 L824.6 615.5 L825.2 615.4" style="stroke-width:2.2"/>
<path class="p" d="M858.6 613.8 L858.4 614.4 L858.2 615.1 L857.9 615.8 L857.5 616.4 L857.1 616.9 L856.6 617.4 L856.1 617.8 L855.5 618.2 L855 618.4 L854.4 618.6 L853.8 618.6 L853.3 618.6 L852.8 618.4 L852.3 618.2 L851.9 617.9 L851.5 617.5 L851.2 617 L850.9 616.5 L850.8 615.9 L850.7 615.2 L850.7 614.6 L850.8 613.9 L850.9 613.2 L851.1 612.5 L851.4 611.9 L851.8 611.3 L852.2 610.7 L852.7 610.2 L853.2 609.8 L853.8 609.5 L854.4 609.2 L854.9 609.1 L855.5 609" style="stroke-width:2.2"/>
<path class="p" d="M880.9 624.9 L880.8 625.6 L880.5 626.3 L880.2 626.9 L879.9 627.5 L879.4 628.1 L879 628.6 L878.4 629 L877.9 629.3 L877.3 629.6 L876.8 629.7 L876.2 629.8 L875.6 629.8 L875.1 629.6 L874.6 629.4 L874.2 629.1 L873.8 628.7 L873.5 628.2 L873.3 627.6 L873.1 627 L873 626.4 L873 625.7 L873.1 625.1 L873.3 624.4 L873.5 623.7 L873.8 623.1 L874.2 622.5 L874.6 621.9 L875.1 621.4 L875.6 621 L876.1 620.7 L876.7 620.4 L877.3 620.3 L877.8 620.2" style="stroke-width:2.2"/>
<path class="p" d="M798 646.5 L797.8 647.2 L797.6 647.8 L797.3 648.5 L796.9 649.1 L796.5 649.6 L796 650.1 L795.5 650.5 L794.9 650.9 L794.3 651.1 L793.8 651.3 L793.2 651.3 L792.7 651.3 L792.1 651.2 L791.7 650.9 L791.2 650.6 L790.8 650.2 L790.5 649.7 L790.3 649.2 L790.1 648.6 L790 647.9 L790 647.3 L790.1 646.6 L790.3 645.9 L790.5 645.2 L790.8 644.6 L791.2 644 L791.6 643.4 L792.1 642.9 L792.6 642.5 L793.2 642.2 L793.7 641.9 L794.3 641.8 L794.9 641.7" style="stroke-width:2.2"/>
<path class="p" d="M778 682.4 L777.8 683.1 L777.6 683.7 L777.3 684.4 L776.9 685 L776.5 685.5 L776 686 L775.5 686.4 L775 686.8 L774.4 687 L773.8 687.2 L773.3 687.2 L772.7 687.2 L772.2 687.1 L771.7 686.8 L771.3 686.5 L770.9 686.1 L770.6 685.6 L770.3 685.1 L770.2 684.5 L770.1 683.9 L770.1 683.2 L770.2 682.5 L770.3 681.8 L770.6 681.1 L770.9 680.5 L771.2 679.9 L771.7 679.3 L772.1 678.9 L772.7 678.4 L773.2 678.1 L773.8 677.9 L774.3 677.7 L774.9 677.6" style="stroke-width:2.2"/>
<path class="p" d="M776.4 719.1 L776.3 719.8 L776 720.4 L775.7 721.1 L775.3 721.7 L774.9 722.2 L774.4 722.7 L773.9 723.1 L773.4 723.5 L772.8 723.7 L772.2 723.9 L771.7 723.9 L771.1 723.9 L770.6 723.8 L770.1 723.5 L769.7 723.2 L769.3 722.8 L769 722.3 L768.8 721.8 L768.6 721.2 L768.5 720.6 L768.5 719.9 L768.6 719.2 L768.7 718.5 L769 717.8 L769.3 717.2 L769.6 716.6 L770.1 716 L770.6 715.6 L771.1 715.1 L771.6 714.8 L772.2 714.6 L772.8 714.4 L773.3 714.3" style="stroke-width:2.2"/>
<path class="p" d="M792.4 742.2 L792.2 742.9 L792 743.6 L791.7 744.2 L791.3 744.8 L790.9 745.4 L790.4 745.9 L789.9 746.3 L789.3 746.6 L788.8 746.9 L788.2 747 L787.6 747.1 L787.1 747 L786.6 746.9 L786.1 746.7 L785.6 746.3 L785.3 745.9 L785 745.5 L784.7 744.9 L784.5 744.3 L784.5 743.7 L784.5 743 L784.5 742.3 L784.7 741.7 L784.9 741 L785.2 740.3 L785.6 739.7 L786 739.2 L786.5 738.7 L787 738.3 L787.6 737.9 L788.1 737.7 L788.7 737.5 L789.3 737.5" style="stroke-width:2.2"/>
<path class="p" d="M815.5 746.2 L815.3 746.9 L815.1 747.6 L814.8 748.2 L814.4 748.8 L814 749.4 L813.5 749.9 L813 750.3 L812.5 750.6 L811.9 750.9 L811.3 751 L810.8 751.1 L810.2 751 L809.7 750.9 L809.2 750.7 L808.8 750.3 L808.4 749.9 L808.1 749.5 L807.8 748.9 L807.7 748.3 L807.6 747.7 L807.6 747 L807.7 746.3 L807.8 745.6 L808.1 745 L808.4 744.3 L808.7 743.7 L809.2 743.2 L809.6 742.7 L810.2 742.3 L810.7 741.9 L811.3 741.7 L811.8 741.5 L812.4 741.5" style="stroke-width:2.2"/>
<path class="p" d="M843.1 733.5 L843 733.9 L842.8 734.4 L842.6 734.9 L842.4 735.3 L842.1 735.7 L841.7 736.1 L841.3 736.4 L840.9 736.6 L840.5 736.8 L840.1 736.9 L839.7 737 L839.3 736.9 L838.9 736.8 L838.6 736.7 L838.3 736.4 L838 736.1 L837.8 735.8 L837.6 735.4 L837.5 735 L837.4 734.5 L837.4 734 L837.5 733.5 L837.6 733.1 L837.8 732.6 L838 732.1 L838.3 731.7 L838.6 731.3 L838.9 730.9 L839.3 730.6 L839.7 730.4 L840.1 730.2 L840.5 730.1 L840.9 730" style="stroke-width:2.6"/>
<path class="p" d="M866.3 711.1 L866.2 711.6 L866 712.1 L865.8 712.6 L865.5 713 L865.2 713.4 L864.8 713.7 L864.5 714 L864.1 714.3 L863.7 714.5 L863.3 714.6 L862.9 714.6 L862.5 714.6 L862.1 714.5 L861.7 714.3 L861.4 714.1 L861.2 713.8 L860.9 713.5 L860.8 713.1 L860.6 712.6 L860.6 712.2 L860.6 711.7 L860.6 711.2 L860.7 710.7 L860.9 710.2 L861.1 709.8 L861.4 709.3 L861.7 708.9 L862 708.6 L862.4 708.3 L862.8 708 L863.2 707.9 L863.6 707.7 L864 707.7" style="stroke-width:2.6"/>
<path class="p" d="M883.8 682.4 L883.7 682.9 L883.5 683.4 L883.3 683.8 L883.1 684.3 L882.7 684.7 L882.4 685 L882 685.3 L881.6 685.6 L881.2 685.7 L880.8 685.9 L880.4 685.9 L880 685.9 L879.6 685.8 L879.3 685.6 L879 685.4 L878.7 685.1 L878.5 684.7 L878.3 684.3 L878.2 683.9 L878.1 683.5 L878.1 683 L878.2 682.5 L878.3 682 L878.5 681.5 L878.7 681 L878.9 680.6 L879.3 680.2 L879.6 679.9 L880 679.6 L880.4 679.3 L880.8 679.1 L881.2 679 L881.6 679" style="stroke-width:2.6"/>
<path class="p" d="M887.8 650.5 L887.7 651 L887.5 651.5 L887.3 651.9 L887 652.4 L886.7 652.8 L886.4 653.1 L886 653.4 L885.6 653.7 L885.2 653.8 L884.8 653.9 L884.4 654 L884 654 L883.6 653.9 L883.3 653.7 L883 653.5 L882.7 653.2 L882.5 652.8 L882.3 652.4 L882.2 652 L882.1 651.5 L882.1 651.1 L882.2 650.6 L882.3 650.1 L882.4 649.6 L882.7 649.1 L882.9 648.7 L883.2 648.3 L883.6 647.9 L884 647.6 L884.4 647.4 L884.8 647.2 L885.2 647.1 L885.6 647.1" style="stroke-width:2.6"/>
<path class="p" d="M880.2 626.9 L913 645.5"/>
<!-- 34_bolt23_brg16R_adj17R.svg -->
<path class="p" d="M922.7 644.1 C922 644.8 919.1 646.3 918.5 648 C917.9 649.6 919 652.9 919.1 653.9"/>
<path class="pw" d="M922.7 644.4 L941.8 653.9 L938.2 664.1 L919.1 653.9 L918.1 649.1 Z"/>
<path class="p" d="M923.3 645 C922.8 645.8 920.8 648.2 920.6 649.7 C920.5 651.3 922 653.5 922.3 654.3" style="stroke-width:1.9"/>
<path class="p" d="M926.4 646.5 C925.9 647.3 923.9 649.7 923.7 651.3 C923.6 652.9 925.1 655.1 925.4 655.8" style="stroke-width:1.9"/>
<path class="p" d="M929.5 648.1 C929 648.9 927 651.3 926.8 652.9 C926.7 654.4 928.2 656.6 928.5 657.4" style="stroke-width:1.9"/>
<path class="p" d="M932.6 649.6 C932.2 650.4 930.1 652.9 930 654.4 C929.8 656 931.4 658.2 931.6 659" style="stroke-width:1.9"/>
<path class="p" d="M935.7 651.2 C935.3 652 933.2 654.4 933.1 656 C932.9 657.5 934.5 659.8 934.7 660.5" style="stroke-width:1.9"/>
<path class="p" d="M938.8 652.7 C938.4 653.5 936.3 656 936.2 657.5 C936 659.1 937.6 661.3 937.9 662.1" style="stroke-width:1.9"/>
<ellipse class="pw" cx="943" cy="662.9" rx="5" ry="8.6" transform="rotate(-25 943 662.9)" style="stroke-width:2.2"/>
<ellipse class="pw" cx="944.2" cy="663.5" rx="5" ry="8.6" transform="rotate(-25 944.2 663.5)" style="stroke-width:2"/>
<path class="pw" d="M944.8 655.7 C946.5 653.9 949.7 651.1 952.6 651.5 C955.5 651.9 960.2 655.4 962.1 658.1 C964.1 660.8 965 664.7 964.5 667.7 C964 670.7 961.2 674.6 959.2 676.1 C957.2 677.5 955 677.4 952.6 676.4 C950.2 675.4 946.5 672.4 944.8 670.1 C943.1 667.7 942.4 664.7 942.4 662.3 C942.4 659.9 943.1 657.5 944.8 655.7 Z"/>
<path class="p" d="M946.6 661.1 C947.6 660.6 950.6 658.1 952.6 658.1 C954.6 658.1 957 659.8 958.6 661.1 C960.2 662.4 961.6 665.1 962.1 665.9"/>
<path class="p" d="M952.6 662.3 L953.8 659.9 L956.2 662.3" style="stroke-width:2.2"/>
<path class="p" d="M947.8 667.1 C948.6 667.7 951.6 669.2 952.6 670.7 C953.6 672.2 953.6 675.2 953.8 676.1"/>
<ellipse class="pw" cx="923.5" cy="739.8" rx="52.4" ry="38.6" transform="rotate(-59.4 923.5 739.8)"/>
<path class="p" d="M914.3 713.5 L918.8 709.4 L923.5 705.9 L928.4 703.1 L933.3 701.1 L938.2 699.9 L943 699.5 L947.5 699.9 L951.7 701.1 L955.6 703.1 L958.9 705.9 L961.8 709.3 L964 713.4 L965.6 718.1 L966.6 723.2 L966.8 728.6"/>
<path class="p" d="M913.3 783 L909.3 781.4 L905.7 779 L902.6 775.9 L900 772.1 L898.1 767.7 L896.8 762.8 L896.2 757.6 L896.3 752 L897.1 746.2 L898.5 740.3"/>
<path class="p" d="M907 769.1 L905.3 765.6 L904.2 761.7 L903.6 757.4 L903.6 752.8 L904.2 748 L905.3 743.2 L906.9 738.3 L909.1 733.5 L911.7 728.8 L914.7 724.5"/>
<path class="p" d="M949.8 718.4 L951.8 719.9 L953.6 722 L954.9 724.4 L955.9 727.3 L956.4 730.5 L956.6 733.9 L956.2 737.6 L955.5 741.3 L954.4 745.2 L952.8 749 L950.9 752.7 L948.7 756.3 L946.3 759.6 L943.5 762.6 L940.7 765.3 L937.6 767.5 L934.6 769.3 L931.5 770.6 L928.5 771.4 L925.6 771.7 L922.9 771.4 L920.4 770.6 L918.2 769.3 L916.3 767.5 L914.7 765.2 L913.5 762.6 L912.8 759.6 L912.5 756.2 L912.6 752.7 L913.1 749 L914 745.1 L915.4 741.3 L917.1 737.5 L919.1 733.9 L921.5 730.4 L924.1 727.3 L926.9 724.4 L929.8 722 L932.9 719.9 L936 718.4 L939 717.3 L942 716.8 L944.8 716.8 L947.4 717.3 L949.8 718.4" style="stroke-width:2.2"/>
<path class="p" d="M930 768.9 L927.4 769.3 L925 769.2 L922.7 768.6 L920.7 767.6 L919 766.1 L917.6 764.2 L916.6 761.9 L915.9 759.2 L915.6 756.3 L915.6 753.1 L916.1 749.8 L916.9 746.4 L918.1 742.9 L919.6 739.5 L921.5 736.2 L923.6 733 L925.9 730.1 L928.4 727.4 L931 725.2 L933.7 723.2 L936.5 721.8 L939.2 720.7 L941.8 720.2 L944.3 720.1 L946.6 720.5 L948.7 721.4 L950.5 722.8 L952 724.6 L953.1 726.7 L953.9 729.3 L954.4 732.1"/>
<path class="p" d="M947.7 724 L949.2 725.2 L950.4 726.7 L951.4 728.6 L952 730.8 L952.3 733.3 L952.3 736 L952 738.8 L951.3 741.8 L950.3 744.9 L949.1 747.9 L947.5 750.8 L945.8 753.7 L943.8 756.4 L941.7 758.8 L939.5 761 L937.1 762.8 L934.8 764.3 L932.4 765.5 L930.2 766.2 L928 766.5 L926 766.3 L924.1 765.8 L922.5 764.8 L921.1 763.5 L920 761.8 L919.3 759.7 L918.8 757.4 L918.6 754.8 L918.8 752 L919.3 749.1 L920.1 746.1 L921.3 743 L922.7 740 L924.3 737.1 L926.2 734.3 L928.2 731.8 L930.4 729.5 L932.7 727.5 L935 725.8 L937.4 724.5 L939.7 723.5 L941.9 723 L944 722.9 L946 723.3 L947.7 724"/>
<ellipse class="pw" cx="936.8" cy="744.9" rx="20" ry="10.5" transform="rotate(-59.4 936.8 744.9)"/>
<path class="p" d="M935.2 730.5 C934.9 732.5 934.7 739.3 933.4 742.5 C932.1 745.7 929.4 747.7 927.4 749.7 C925.4 751.7 922.5 753.7 921.5 754.5"/>
<path class="p" d="M913.1 749.7 C912.5 751.3 909.7 755.9 909.5 759.2 C909.3 762.6 910.5 767.2 911.9 770 C913.3 772.8 916.9 775 917.9 776"/>
<path class="p" d="M917.9 770 L917.9 777.2 L927.4 775.4"/>
<ellipse class="pw" cx="983.9" cy="773.9" rx="52" ry="35" transform="rotate(-60 983.9 773.9)"/>
<path class="p" d="M963.7 820.4 L959.3 818.8 L955.4 816.2 L952 812.8 L949.3 808.6 L947.3 803.7 L946.1 798.3 L945.5 792.3 L945.8 786 L946.8 779.4 L948.5 772.8 L951 766.1 L954.1 759.6 L957.8 753.4 L962 747.6 L966.6 742.3 L971.6 737.7 L976.9 733.8 L982.3 730.6 L987.7 728.4 L993 727 L998.2 726.6" style="stroke-width:1.5"/>
<path class="p" d="M963.7 819.6 L959.6 818 L956 815.6 L952.9 812.4 L950.4 808.4 L948.6 803.7 L947.5 798.4 L947.1 792.6 L947.4 786.4 L948.5 780 L950.3 773.5 L952.8 767 L955.8 760.6 L959.5 754.5 L963.6 748.8 L968.1 743.5 L973 738.9 L978 735 L983.2 731.8 L988.4 729.5 L993.5 728.1 L998.4 727.6" style="stroke-width:1.5"/>
<path class="p" d="M963.8 818.7 L959.9 817.3 L956.5 815 L953.7 811.9 L951.4 808.1 L949.8 803.6 L948.9 798.4 L948.6 792.8 L949.1 786.8 L950.2 780.6 L952.1 774.2 L954.5 767.8 L957.6 761.6 L961.2 755.5 L965.2 749.9 L969.6 744.7 L974.3 740.1 L979.1 736.2 L984.1 733 L989.1 730.7 L994 729.2 L998.6 728.6" style="stroke-width:1.5"/>
<path class="p" d="M963.7 820.8 L958.7 818.8 L954.3 815.7 L950.7 811.6 L947.8 806.5 L945.9 800.7" style="stroke-width:3.4"/>
<ellipse class="pw" cx="989.3" cy="777.8" rx="25.5" ry="13.5" transform="rotate(-60 989.3 777.8)"/>
<path class="p" d="M994.1 758.5 L996.5 757.5 L998.8 756.9 L1000.9 756.7 L1002.8 757 L1004.6 757.8 L1006 759 L1007.1 760.7 L1008 762.7 L1008.5 765.1 L1008.6 767.8 L1008.4 770.7 L1007.9 773.8 L1007 777 L1005.8 780.2 L1004.3 783.5 L1002.6 786.6 L1000.6 789.6 L998.5 792.4 L996.2 794.9 L993.8 797.1 L991.4 798.9 L989 800.3 L986.6 801.3"/>
<path class="p" d="M1002.8 760.4 C1003.1 761.4 1004.8 763.6 1004.6 766.4 C1004.4 769.2 1002.1 775.4 1001.6 777.2" style="stroke-width:2.4"/>
<path class="p" d="M994.4 737 L994.8 737.2 L995.2 737.4 L995.6 737.7 L995.9 738.1 L996.1 738.5 L996.3 738.9 L996.5 739.4 L996.6 739.8 L996.6 740.3 L996.5 740.8 L996.4 741.2 L996.2 741.7 L995.9 742.1 L995.6 742.4 L995.3 742.7 L994.9 743 L994.4 743.2 L994 743.3 L993.5 743.4 L993.1 743.4 L992.6 743.3 L992.1 743.2 L991.7 743 L991.3 742.8 L990.9 742.5 L990.6 742.1 L990.4 741.7 L990.2 741.3 L990 740.8 L990 740.4 L990 739.9 L990 739.4 L990.2 739" style="stroke-width:2"/>
<path class="p" d="M1004.6 735.8 L1005 736 L1005.4 736.2 L1005.8 736.6 L1006.1 736.9 L1006.3 737.3 L1006.5 737.7 L1006.7 738.2 L1006.7 738.6 L1006.7 739.1 L1006.7 739.6 L1006.5 740 L1006.3 740.5 L1006.1 740.9 L1005.8 741.2 L1005.4 741.5 L1005 741.8 L1004.6 742 L1004.2 742.1 L1003.7 742.2 L1003.2 742.2 L1002.8 742.1 L1002.3 742 L1001.9 741.8 L1001.5 741.6 L1001.1 741.3 L1000.8 740.9 L1000.6 740.5 L1000.4 740.1 L1000.2 739.6 L1000.1 739.2 L1000.1 738.7 L1000.2 738.2 L1000.3 737.8" style="stroke-width:2"/>
<path class="p" d="M1014.7 738.2 L1015.2 738.4 L1015.6 738.6 L1015.9 738.9 L1016.2 739.3 L1016.5 739.7 L1016.7 740.1 L1016.8 740.6 L1016.9 741 L1016.9 741.5 L1016.8 742 L1016.7 742.4 L1016.5 742.9 L1016.3 743.3 L1016 743.6 L1015.6 743.9 L1015.2 744.2 L1014.8 744.4 L1014.3 744.5 L1013.9 744.6 L1013.4 744.6 L1012.9 744.5 L1012.5 744.4 L1012.1 744.2 L1011.7 744 L1011.3 743.6 L1011 743.3 L1010.7 742.9 L1010.5 742.5 L1010.4 742 L1010.3 741.6 L1010.3 741.1 L1010.4 740.6 L1010.5 740.2" style="stroke-width:2"/>
<path class="p" d="M1018.3 748.4 L1018.8 748.6 L1019.2 748.8 L1019.5 749.1 L1019.8 749.5 L1020.1 749.9 L1020.3 750.3 L1020.4 750.7 L1020.5 751.2 L1020.5 751.7 L1020.4 752.1 L1020.3 752.6 L1020.1 753 L1019.9 753.4 L1019.6 753.8 L1019.2 754.1 L1018.8 754.4 L1018.4 754.6 L1017.9 754.7 L1017.5 754.8 L1017 754.8 L1016.5 754.7 L1016.1 754.6 L1015.6 754.4 L1015.2 754.1 L1014.9 753.8 L1014.6 753.5 L1014.3 753.1 L1014.1 752.6 L1014 752.2 L1013.9 751.7 L1013.9 751.3 L1014 750.8 L1014.1 750.3" style="stroke-width:2"/>
<path class="p" d="M1018.9 758.5 L1019.4 758.7 L1019.8 759 L1020.1 759.3 L1020.4 759.6 L1020.7 760 L1020.9 760.5 L1021 760.9 L1021.1 761.4 L1021.1 761.9 L1021 762.3 L1020.9 762.8 L1020.7 763.2 L1020.5 763.6 L1020.1 764 L1019.8 764.3 L1019.4 764.5 L1019 764.7 L1018.5 764.9 L1018.1 764.9 L1017.6 764.9 L1017.1 764.9 L1016.7 764.7 L1016.2 764.6 L1015.8 764.3 L1015.5 764 L1015.2 763.6 L1014.9 763.2 L1014.7 762.8 L1014.6 762.4 L1014.5 761.9 L1014.5 761.4 L1014.6 761 L1014.7 760.5" style="stroke-width:2"/>
<path class="p" d="M1016.5 770.5 L1017 770.7 L1017.4 771 L1017.7 771.3 L1018 771.6 L1018.3 772 L1018.5 772.4 L1018.6 772.9 L1018.7 773.3 L1018.7 773.8 L1018.6 774.3 L1018.5 774.7 L1018.3 775.2 L1018.1 775.6 L1017.8 775.9 L1017.4 776.2 L1017 776.5 L1016.6 776.7 L1016.1 776.8 L1015.7 776.9 L1015.2 776.9 L1014.7 776.8 L1014.3 776.7 L1013.8 776.5 L1013.4 776.3 L1013.1 776 L1012.8 775.6 L1012.5 775.2 L1012.3 774.8 L1012.2 774.3 L1012.1 773.9 L1012.1 773.4 L1012.2 772.9 L1012.3 772.5" style="stroke-width:2"/>
<path class="p" d="M1010 784.9 L1010.4 785.1 L1010.8 785.3 L1011.1 785.6 L1011.4 786 L1011.7 786.4 L1011.9 786.8 L1012 787.2 L1012.1 787.7 L1012.1 788.2 L1012.1 788.6 L1011.9 789.1 L1011.7 789.5 L1011.5 789.9 L1011.2 790.3 L1010.8 790.6 L1010.4 790.9 L1010 791.1 L1009.5 791.2 L1009.1 791.3 L1008.6 791.3 L1008.1 791.2 L1007.7 791.1 L1007.3 790.9 L1006.9 790.6 L1006.5 790.3 L1006.2 790 L1005.9 789.6 L1005.7 789.1 L1005.6 788.7 L1005.5 788.2 L1005.5 787.8 L1005.6 787.3 L1005.7 786.8" style="stroke-width:2"/>
<path class="p" d="M1001.6 796.2 L1002 796.4 L1002.4 796.7 L1002.8 797 L1003.1 797.3 L1003.3 797.7 L1003.5 798.2 L1003.7 798.6 L1003.7 799.1 L1003.7 799.5 L1003.7 800 L1003.5 800.5 L1003.4 800.9 L1003.1 801.3 L1002.8 801.7 L1002.4 802 L1002 802.2 L1001.6 802.4 L1001.2 802.6 L1000.7 802.6 L1000.2 802.6 L999.8 802.6 L999.3 802.4 L998.9 802.2 L998.5 802 L998.1 801.7 L997.8 801.3 L997.6 800.9 L997.4 800.5 L997.2 800.1 L997.2 799.6 L997.2 799.1 L997.2 798.7 L997.3 798.2" style="stroke-width:2"/>
<path class="p" d="M990.8 802.8 L991.2 803 L991.6 803.3 L992 803.6 L992.3 803.9 L992.6 804.3 L992.8 804.7 L992.9 805.2 L993 805.7 L993 806.1 L992.9 806.6 L992.8 807.1 L992.6 807.5 L992.3 807.9 L992 808.2 L991.7 808.5 L991.3 808.8 L990.9 809 L990.4 809.1 L989.9 809.2 L989.5 809.2 L989 809.2 L988.5 809 L988.1 808.8 L987.7 808.6 L987.4 808.3 L987 807.9 L986.8 807.5 L986.6 807.1 L986.5 806.6 L986.4 806.2 L986.4 805.7 L986.4 805.2 L986.6 804.8" style="stroke-width:2"/>
<path class="p" d="M979.4 809.4 L979.9 809.6 L980.3 809.8 L980.6 810.2 L980.9 810.5 L981.2 810.9 L981.4 811.3 L981.5 811.8 L981.6 812.2 L981.6 812.7 L981.5 813.2 L981.4 813.6 L981.2 814.1 L981 814.5 L980.7 814.8 L980.3 815.1 L979.9 815.4 L979.5 815.6 L979 815.7 L978.6 815.8 L978.1 815.8 L977.6 815.7 L977.2 815.6 L976.7 815.4 L976.3 815.2 L976 814.9 L975.7 814.5 L975.4 814.1 L975.2 813.7 L975.1 813.2 L975 812.8 L975 812.3 L975.1 811.8 L975.2 811.4" style="stroke-width:2"/>
<path class="p" d="M968.7 809.4 L969.1 809.6 L969.5 809.8 L969.8 810.2 L970.2 810.5 L970.4 810.9 L970.6 811.3 L970.8 811.8 L970.8 812.2 L970.8 812.7 L970.8 813.2 L970.6 813.6 L970.4 814.1 L970.2 814.5 L969.9 814.8 L969.5 815.1 L969.1 815.4 L968.7 815.6 L968.3 815.7 L967.8 815.8 L967.3 815.8 L966.9 815.7 L966.4 815.6 L966 815.4 L965.6 815.2 L965.2 814.9 L964.9 814.5 L964.7 814.1 L964.5 813.7 L964.3 813.2 L964.2 812.8 L964.2 812.3 L964.3 811.8 L964.4 811.4" style="stroke-width:2"/>
<path class="p" d="M963.9 801 L964.3 801.2 L964.7 801.5 L965.1 801.8 L965.4 802.1 L965.6 802.5 L965.8 802.9 L966 803.4 L966 803.9 L966 804.3 L966 804.8 L965.8 805.3 L965.7 805.7 L965.4 806.1 L965.1 806.4 L964.7 806.8 L964.4 807 L963.9 807.2 L963.5 807.3 L963 807.4 L962.5 807.4 L962.1 807.4 L961.6 807.2 L961.2 807 L960.8 806.8 L960.4 806.5 L960.1 806.1 L959.9 805.7 L959.7 805.3 L959.5 804.9 L959.5 804.4 L959.5 803.9 L959.5 803.5 L959.6 803" style="stroke-width:2"/>
<path class="p" d="M959.7 790.9 L960.1 791 L960.5 791.3 L960.9 791.6 L961.2 792 L961.4 792.3 L961.6 792.8 L961.8 793.2 L961.8 793.7 L961.9 794.2 L961.8 794.6 L961.7 795.1 L961.5 795.5 L961.2 795.9 L960.9 796.3 L960.6 796.6 L960.2 796.8 L959.7 797 L959.3 797.2 L958.8 797.2 L958.3 797.2 L957.9 797.2 L957.4 797.1 L957 796.9 L956.6 796.6 L956.2 796.3 L955.9 796 L955.7 795.6 L955.5 795.1 L955.3 794.7 L955.3 794.2 L955.3 793.7 L955.3 793.3 L955.5 792.8" style="stroke-width:2"/>
<path class="p" d="M964.5 775.3 L964.9 775.5 L965.3 775.7 L965.7 776 L966 776.4 L966.2 776.8 L966.4 777.2 L966.6 777.7 L966.6 778.1 L966.6 778.6 L966.6 779.1 L966.4 779.5 L966.3 780 L966 780.4 L965.7 780.7 L965.3 781 L965 781.3 L964.5 781.5 L964.1 781.6 L963.6 781.7 L963.1 781.7 L962.7 781.6 L962.2 781.5 L961.8 781.3 L961.4 781.1 L961 780.7 L960.7 780.4 L960.5 780 L960.3 779.6 L960.1 779.1 L960.1 778.7 L960.1 778.2 L960.1 777.7 L960.2 777.3" style="stroke-width:2"/>
<path class="p" d="M970.5 760.9 L970.9 761.1 L971.3 761.4 L971.6 761.7 L972 762 L972.2 762.4 L972.4 762.9 L972.5 763.3 L972.6 763.8 L972.6 764.2 L972.6 764.7 L972.4 765.2 L972.2 765.6 L972 766 L971.7 766.4 L971.3 766.7 L970.9 766.9 L970.5 767.1 L970.1 767.3 L969.6 767.3 L969.1 767.3 L968.7 767.3 L968.2 767.1 L967.8 766.9 L967.4 766.7 L967 766.4 L966.7 766 L966.4 765.6 L966.2 765.2 L966.1 764.8 L966 764.3 L966 763.8 L966.1 763.4 L966.2 762.9" style="stroke-width:2"/>
<path class="p" d="M981.8 747.8 L982.3 748 L982.7 748.2 L983 748.5 L983.3 748.9 L983.6 749.3 L983.8 749.7 L983.9 750.1 L984 750.6 L984 751.1 L983.9 751.5 L983.8 752 L983.6 752.4 L983.4 752.8 L983.1 753.2 L982.7 753.5 L982.3 753.8 L981.9 754 L981.4 754.1 L981 754.2 L980.5 754.2 L980 754.1 L979.6 754 L979.1 753.8 L978.7 753.5 L978.4 753.2 L978.1 752.9 L977.8 752.5 L977.6 752 L977.5 751.6 L977.4 751.1 L977.4 750.7 L977.5 750.2 L977.6 749.7" style="stroke-width:2"/>
<!-- 35_lock18R_bolt24R.svg -->
<path class="pw" d="M1073.7 700.7 L1089.6 708.6 L1096.6 712.4 L1096.6 733.8 L1094.2 737.5 L1076.5 745.9 L1059.8 749.1 L1048.6 745.9 L1047.2 739.4 L1048.6 737 L1055.1 739.4 L1058.9 739.4 L1070 724.5 L1070.5 703.1 Z"/>
<path class="p" d="M1073.7 702.1 L1091.4 714.2 L1089.6 717 L1074.7 723.5 L1071 723.5"/>
<path class="p" d="M1076.5 717 L1080.7 716.6 L1080.3 720.7" style="stroke-width:2.2"/>
<path class="p" d="M1071 726.3 L1094.2 718.9"/>
<path class="p" d="M1074.7 727.3 L1085.9 722.6" style="stroke-width:2.6"/>
<path class="p" d="M1061.2 739.8 L1071.4 727.3"/>
<path class="p" d="M1048.6 737.5 L1055.1 739.8" style="stroke-width:3.4"/>
<path class="pt" d="M1094.2 718.9 L1094.2 737.5"/>
<path class="pw" d="M1127.3 691.4 L1112.8 699.8 L1112.4 702.1 L1114.2 705.4 L1117.5 706.8 L1131.9 700.7 Z"/>
<path class="p" d="M1115.2 698.9 C1115.5 699.3 1116.8 700.7 1117.2 701.7 C1117.7 702.6 1117.8 704.1 1118 704.6" style="stroke-width:1.8"/>
<path class="p" d="M1118 697.3 C1118.3 697.8 1119.5 699.1 1120 700.1 C1120.5 701 1120.6 702.6 1120.8 703.1" style="stroke-width:1.8"/>
<path class="p" d="M1120.8 695.7 C1121.1 696.2 1122.3 697.5 1122.8 698.5 C1123.3 699.5 1123.4 701 1123.5 701.5" style="stroke-width:1.8"/>
<path class="p" d="M1123.5 694.1 C1123.9 694.6 1125.1 696 1125.6 696.9 C1126.1 697.9 1126.2 699.4 1126.3 699.9" style="stroke-width:1.8"/>
<path class="p" d="M1126.3 692.5 C1126.7 693 1127.9 694.4 1128.4 695.3 C1128.9 696.3 1129 697.8 1129.1 698.3" style="stroke-width:1.8"/>
<path class="pw" d="M1139.8 677.5 L1144.5 677.9 L1150.5 685.4 L1150.5 695.6 L1144.5 700.3 L1137 704.5 L1130.5 701.2 L1125.9 691 L1126.8 685.4 L1132.4 682.6 Z"/>
<path class="p" d="M1126.8 690 C1127.7 689.6 1130.5 687.5 1132.4 687.2 C1134.3 686.9 1136.4 687.2 1138 688.2 C1139.5 689.1 1141.1 692 1141.7 692.8" style="stroke-width:2.4"/>
<path class="p" d="M1137 680.7 C1137.5 681 1138.8 682.5 1139.8 682.6 C1140.8 682.7 1142.6 681.4 1143.1 681.2" style="stroke-width:2.2"/>
<path class="p" d="M1139.8 682.6 L1141.7 689.1 L1145.4 693.7 L1150.5 693.3"/>
<path class="p" d="M1131 691 C1131.4 691.4 1133.1 692.7 1133.3 693.7 C1133.6 694.8 1132.5 696.9 1132.4 697.5" style="stroke-width:2.2"/>
<path class="p" d="M1141.7 692.8 C1141.4 693.4 1139.6 695.6 1139.8 696.5 C1140.1 697.5 1142.6 698.1 1143.1 698.4"/>
<!-- 36_screw27.svg -->
<path class="pw" d="M628.7 695 L641 701.9 L642 705.6 L638.8 710.4 L634.6 710.4 L625.5 704 Z" style="stroke-width:2.6"/>
<path class="p" d="M625 701.4 L629 697.7" style="stroke-width:2.4"/>
<path class="p" d="M626.6 704 L630.6 700.3" style="stroke-width:2.4"/>
<path class="p" d="M629 703.5 L633 699.8" style="stroke-width:2.4"/>
<path class="p" d="M630.6 706.2 L634.6 702.4" style="stroke-width:2.4"/>
<path class="p" d="M633 705.6 L637 701.9" style="stroke-width:2.4"/>
<path class="p" d="M634.6 708.3 L638.6 704.6" style="stroke-width:2.4"/>
<path class="pw" d="M620.2 690.5 L626.6 690.5 L628.7 692.9 L629 696.1 L623.4 701.9 L622.9 704.6 L619.1 704.6 L615.7 701.9 L615.4 696.6 L617 693.9 Z" style="stroke-width:2.6"/>
<!-- 40_carrier_bolt25.svg -->
<path class="pw" d="M733.8 1028.3 L764.7 1010.2 L770 1006.5 L776.4 1006 L781.7 1010.2 L783.8 1018.7 L782.8 1024 L789.1 1028.3 L790.7 1033.6 L790.2 1047.4 L788.1 1054.9 L780.6 1065.5 L779 1073 L783.3 1076.2 L782.8 1081.5 L777.4 1085.7 L765.7 1092.1 L750.9 1099.6 L748.7 1106 L741.3 1067.7 Z"/>
<path class="p" d="M741.3 1037.3 L773.2 1020.3"/>
<path class="p" d="M764.7 1010.4 L766.8 1014.5 L775.3 1016.6 L779.6 1012.3"/>
<path class="p" d="M765.7 1011.5 L773.2 1015.7" style="stroke-width:1.7"/>
<path class="p" d="M768.1 1010.5 L775.1 1014.5" style="stroke-width:1.7"/>
<path class="p" d="M770.4 1009.6 L777 1013.2" style="stroke-width:1.7"/>
<path class="p" d="M772.8 1008.6 L778.9 1011.9" style="stroke-width:1.7"/>
<path class="p" d="M781.7 1010.2 C781.3 1010.9 779.2 1012.7 779.6 1014.5 C779.9 1016.2 783.1 1019.8 783.8 1020.9" style="stroke-width:2.4"/>
<path class="k" d="M768.9 1041.6 C770.4 1041.2 775.5 1042.4 777.4 1043.7 C779.4 1045.1 780.4 1047 780.9 1049.6 C781.3 1052.1 780.9 1055.6 780.1 1059.1 C779.4 1062.7 778.1 1067.1 776.4 1070.9 C774.7 1074.6 772.7 1078.1 770 1081.5 C767.3 1084.9 763.8 1088.2 760.4 1091.1 C757.1 1093.9 751.6 1098.9 749.8 1098.5 C747.9 1098.2 748.2 1091.6 749.3 1088.9 C750.3 1086.3 754 1085.4 756.2 1082.6 C758.4 1079.7 760.8 1076.2 762.6 1071.9 C764.3 1067.7 765.8 1061.3 766.8 1057 C767.8 1052.8 768 1049 768.4 1046.4 C768.8 1043.8 767.4 1042 768.9 1041.6 Z"/>
<path class="p" d="M743.9 1057 C745.3 1055.6 748.8 1050.9 751.9 1048.5 C755 1046.1 759.4 1043.9 762.6 1042.7 C765.7 1041.4 769.6 1041.3 771.1 1041.1"/>
<path class="p" d="M760.4 1046.4 C759.5 1048.7 757.1 1056.1 755.1 1060.2 C753.2 1064.3 749.8 1069.1 748.7 1070.9"/>
<path class="p" d="M766.8 1043.7 C766.5 1046.3 765.9 1054.3 764.7 1059.1 C763.4 1064 761.7 1068.9 759.4 1073 C757.1 1077.1 752.3 1081.8 750.9 1083.6"/>
<path class="p" d="M784.9 1040 L784.9 1046.4 L788.1 1044.3" style="stroke-width:2.2"/>
<path d="M625.1 950.2 L641.5 948.9 L661.7 954.0 L687.0 967.9 L709.7 990.6 L727.4 1018.4 L740.0 1051.3 L747.6 1086.6 L748.9 1111.9 L742.5 1132.1 L732.4 1144.8 L719.8 1152.3 L611.2 1154.9 L575.8 1167.5 L563.2 1157.4 L545.5 1159.9 L527.8 1149.8 L515.2 1129.6 L510.1 1106.9 L517.7 1094.2 L529.1 1089.2 L551.8 1048.7 L568.2 1021.0 L568.2 1008.3 L583.4 999.5 L606.1 960.3 Z" fill="#fff" stroke="none"/>
<path class="p" d="M606.1 960.3 C609.3 958.6 619.2 952.1 625.1 950.2 C631 948.3 635.4 948.3 641.5 948.9 C647.6 949.6 654.1 950.8 661.7 954 C669.3 957.2 679 961.8 687 967.9 C695 974 703 982.2 709.7 990.6 C716.4 999.1 722.3 1008.3 727.4 1018.4 C732.4 1028.5 736.7 1039.9 740 1051.3 C743.4 1062.6 746.1 1076.5 747.6 1086.6 C749.1 1096.8 749.7 1104.3 748.9 1111.9 C748 1119.5 745.3 1126.6 742.5 1132.1 C739.8 1137.6 736.2 1141.4 732.4 1144.8 C728.7 1148.1 721.9 1151.1 719.8 1152.3"/>
<path class="p" d="M719.8 1152.3 L611.2 1154.9 L575.8 1167.5 L563.2 1157.4 L545.5 1159.9"/>
<path class="p" d="M545.5 1159.9 C542.5 1158.2 532.8 1154.9 527.8 1149.8 C522.7 1144.8 518.1 1136.8 515.2 1129.6 C512.2 1122.4 509.7 1112.8 510.1 1106.9 C510.5 1101 514.5 1097.2 517.7 1094.2 C520.8 1091.3 527.2 1090 529.1 1089.2"/>
<path class="p" d="M529.1 1089.2 L551.8 1048.7 L568.2 1021 L568.2 1008.3 L583.4 999.5 L606.1 960.3"/>
<path class="p" d="M618.7 1013.4 C617.9 1011.7 615 1007.1 613.7 1003.3 C612.4 999.5 610.7 994.8 611.2 990.6 C611.6 986.4 612.9 981.2 616.2 978 C619.6 974.8 625.5 972.1 631.4 971.7 C637.3 971.3 644.9 972.7 651.6 975.5 C658.3 978.2 665.9 983.1 671.8 988.1 C677.7 993.2 682.3 999.9 687 1005.8 C691.6 1011.7 695.8 1017.6 699.6 1023.5 C703.4 1029.4 708 1038.2 709.7 1041.2"/>
<ellipse class="p" cx="626.3" cy="961.6" rx="4" ry="6.6" transform="rotate(-10 626.3 961.6)" style="stroke-width:2.2"/>
<ellipse class="p" cx="685.7" cy="994.4" rx="3.6" ry="6.4" transform="rotate(-20 685.7 994.4)" style="stroke-width:2.2"/>
<path class="p" d="M679.4 984.3 L684.4 986.8"/>
<path class="p" d="M669.3 955.3 L679.4 959.1 L680.6 964.1"/>
<path class="pt" d="M636.4 952.7 L661.7 959.1"/>
<path class="p" d="M583.4 999.5 L676.9 1053.8"/>
<path class="p" d="M589.7 995.7 L611.2 983.1"/>
<path class="p" d="M606.1 967.9 L611.2 980.5"/>
<path class="p" d="M568.2 1021 L578.3 1017.2 L578.3 1031.1 L554.3 1045"/>
<path class="p" d="M551.8 1048.7 L570.7 1065.2 L608.6 1051.3 L623.8 1051.3 L646.5 1071.5 L661.7 1070.2 L681.9 1061.4 L712.2 1041.2"/>
<path class="p" d="M651.6 1034.9 L702.1 1038.6"/>
<path class="p" d="M651.6 1034.9 L676.9 1053.8"/>
<path class="p" d="M681.9 1056.3 L709.7 1041.2"/>
<path class="p" d="M712.2 1041.2 L713.5 1051.3 L735 1071.5 L740 1081.6"/>
<path class="p" d="M583.4 1087.9 L623.8 1067.7"/>
<path class="p" d="M575.8 1099.8 L656.6 1098.8 L742.5 1094.7"/>
<path class="p" d="M580.8 1094.2 L639 1093"/>
<path class="p" d="M681.9 1090.4 L742.5 1095.5"/>
<path class="p" d="M573.3 1134.6 L608.6 1117"/>
<path class="p" d="M573.3 1139.7 L727.4 1124.5"/>
<path class="p" d="M565.7 1147.3 L732.4 1132.1"/>
<path class="p" d="M616.2 1113.2 L633.9 1110.6"/>
<path class="p" d="M646.5 1106.9 L659.2 1111.9"/>
<path class="p" d="M669.3 1113.2 L689.5 1114.9 L697.1 1106.9"/>
<path class="p" d="M709.7 1104.3 L735 1122"/>
<path class="p" d="M676.9 1086.6 L702.1 1072.7"/>
<path class="p" d="M712.2 1071.5 L722.3 1079.1"/>
<path class="p" d="M639 1076.5 L640.2 1089.2"/>
<path class="p" d="M668 1072.7 L669.3 1091.7"/>
<path class="p" d="M707.2 1053.8 L707.2 1063.9"/>
<path class="p" d="M561.9 1106.9 L568.2 1071.5"/>
<path class="p" d="M567 1122 L574.5 1072.7"/>
<path class="p" d="M553.1 1051.3 L550.5 1079.1 L563.2 1089.2"/>
<path class="p" d="M555.6 1058.9 L563.2 1066.4 L554.3 1076.5 L555.6 1058.9"/>
<path class="p" d="M529.1 1089.2 L540.4 1096.8"/>
<path class="p" d="M530.3 1081.6 L544.2 1082.9"/>
<path class="p" d="M563.2 1157.4 L569.5 1162.4 L565.7 1156.1"/>
<path class="p" d="M575.8 1167.5 L583.4 1168.8 L611.2 1154.9"/>
<path class="p" d="M583.4 1141 L618.7 1135.9"/>
<path class="p" d="M621.3 1142.2 L727.4 1129.6"/>
<path class="p" d="M719.8 1152.3 L732.4 1137.2 L742.5 1117"/>
<path class="p" d="M687 1005.8 C685.3 1007.5 679.8 1011.7 676.9 1015.9 C673.9 1020.1 670.5 1028.5 669.3 1031.1"/>
<path class="p" d="M660.1 1061.4 L660.1 1062.1 L659.9 1062.8 L659.6 1063.4 L659.2 1064 L658.7 1064.6 L658.1 1065.1 L657.5 1065.5 L656.7 1065.9 L656 1066.1 L655.2 1066.3 L654.3 1066.4 L653.5 1066.4 L652.7 1066.2 L651.9 1066 L651.1 1065.7 L650.4 1065.3 L649.8 1064.9 L649.3 1064.3 L648.8 1063.7 L648.5 1063.1 L648.2 1062.4 L648.1 1061.7 L648.1 1061 L648.2 1060.3 L648.5 1059.7" style="stroke-width:2.2"/>
<path class="p" d="M583.2 1005.7 L583.9 1006 L584.6 1006.4 L585.2 1006.9 L585.7 1007.5 L586.1 1008.1 L586.5 1008.8 L586.7 1009.6 L586.8 1010.3 L586.8 1011.1 L586.8 1011.9 L586.6 1012.6 L586.3 1013.3 L585.9 1014 L585.4 1014.6 L584.8 1015.1 L584.2 1015.6 L583.5 1015.9 L582.8 1016.2 L582 1016.3 L581.2 1016.3 L580.5 1016.3 L579.7 1016.1 L579 1015.8 L578.3 1015.4 L577.7 1015 L577.2 1014.4 L576.7 1013.8 L576.3 1013.1 L576.1 1012.4 L575.9 1011.6 L575.9 1010.8" style="stroke-width:2.2"/>
<ellipse class="p" cx="728.7" cy="1076" rx="4.6" ry="5" style="stroke-width:2.2"/>
<path class="p" d="M516.4 1111.9 C517.3 1106.9 521.7 1103.1 525.3 1101.8 C528.8 1100.5 533.7 1101 537.9 1104.3 C542.1 1107.7 547.6 1115.3 550.5 1122 C553.5 1128.8 556 1139.3 555.6 1144.8 C555.2 1150.2 551.8 1154 548 1154.9 C544.2 1155.7 537.5 1153.6 532.8 1149.8 C528.2 1146 522.9 1138.4 520.2 1132.1 C517.5 1125.8 515.6 1117 516.4 1111.9 Z"/>
<path class="p" d="M728.7 1079.6 L555.6 1171.3"/>
<path class="pw" d="M807.2 985.7 C805.8 986.6 800.9 989.5 798.7 991.1 C796.6 992.7 795.4 993.7 794.5 995.3 C793.6 996.9 793 999 793.4 1000.6 C793.8 1002.2 795 1004.2 796.6 1004.9 C798.2 1005.6 800.9 1005.4 803 1004.9 C805.1 1004.4 807.2 1002.9 809.4 1001.7 C811.5 1000.5 814.7 998.2 815.7 997.4"/>
<path class="pw" d="M840.2 966.6 L813.6 981.5 L807.2 985.7 L798.7 991.1 L794.5 995.3 L793.4 1000.6 L796.6 1004.9 L803 1004.9 L809.4 1001.7 L815.7 997.4 L820 995.3 L844.5 981.5 Z"/>
<path d="M813.6 981.7 L807.2 986.0 L815.7 997.2 L820.0 995.1 Z" fill="#fff" stroke="none"/>
<path class="p" d="M801.9 990 C802.4 990.9 804.5 993.3 805.1 995.3 C805.7 997.4 805.5 1001.1 805.6 1002.2" style="stroke-width:1.8"/>
<path class="p" d="M805.6 987.7 C806.2 988.6 808.2 991.2 808.8 993.2 C809.5 995.2 809.3 998.6 809.4 999.7" style="stroke-width:1.8"/>
<path class="p" d="M809.4 985.3 C809.9 986.3 811.9 989.1 812.6 991.1 C813.2 993 813 996.1 813.1 997.1" style="stroke-width:1.8"/>
<path class="p" d="M813.1 983 C813.6 984 815.7 987 816.3 988.9 C816.9 990.9 816.7 993.6 816.8 994.6" style="stroke-width:1.8"/>
<path class="pw" d="M834.9 962.9 C836.2 961 840.7 957.6 843.4 956.5 C846.1 955.4 848.5 955.3 850.9 956.5 C853.2 957.6 855.6 961 857.2 963.4 C858.8 965.8 860.1 968.5 860.4 970.9 C860.8 973.2 860.6 975.1 859.4 977.2 C858.1 979.4 854.9 982.5 853 983.6 C851 984.8 849.3 984.4 847.7 984.1 C846.1 983.9 844.6 983.7 843.4 982 C842.2 980.3 841.5 976.4 840.2 974 C838.9 971.6 836.3 969.5 835.4 967.7 C834.5 965.8 833.6 964.7 834.9 962.9 Z"/>
<path class="p" d="M843.4 957 C844.1 958.3 846.7 962 847.7 964.5 C848.6 967 849 969.6 849.3 971.9 C849.5 974.2 849.3 977.2 849.3 978.3"/>
<path class="p" d="M837 966.6 C837.9 966.5 840.7 965.4 842.3 966.1 C843.9 966.8 845.7 969 846.6 970.9 C847.5 972.7 847.5 976.2 847.7 977.2"/>
<path class="p" d="M847.7 960.2 L850.9 961.3" style="stroke-width:2.2"/>
<path class="p" d="M854 975.1 L854.6 978.3 L857.2 976.2" style="stroke-width:2"/>
<!-- 41_flange_seal_brg_bolt26_nut.svg -->
<path class="pw" d="M459.6 1133.2 C459.1 1127.7 463 1127.4 466.3 1124.9 C469.6 1122.4 475.1 1119.1 479.6 1118.3 C484 1117.5 488.7 1118.3 492.9 1119.9 C497 1121.6 501.2 1124.7 504.5 1128.3 C507.8 1131.9 510.6 1136.6 512.8 1141.6 C515 1146.5 517.5 1152.9 517.8 1158.2 C518.1 1163.4 516.7 1169.3 514.5 1173.1 C512.3 1177 508.1 1179.6 504.5 1181.4 C500.9 1183.3 496.2 1183.8 492.9 1183.9 C489.5 1184.1 488.4 1186.6 484.6 1182.3 C480.7 1178 473.8 1166.4 469.6 1158.2 C465.4 1150 460.2 1138.8 459.6 1133.2 Z"/>
<path class="p" d="M458.8 1134.1 C459.2 1133.1 459.2 1130.1 461.3 1128.3 C463.4 1126.5 467.5 1123.8 471.3 1123.3 C475 1122.7 480.1 1123.3 483.7 1124.9 C487.3 1126.6 490.2 1129.6 492.9 1133.2 C495.5 1136.8 498 1142.9 499.5 1146.5 C501 1150.1 501.6 1153.5 502 1154.9"/>
<ellipse class="p" cx="483.7" cy="1154.9" rx="24" ry="14.5" transform="rotate(62 483.7 1154.9)"/>
<path class="p" d="M497.6 1168.1 L496.8 1169.9 L495.8 1171.5 L494.6 1172.7 L493.2 1173.6 L491.5 1174.1 L489.7 1174.2 L487.8 1174 L485.8 1173.3 L483.8 1172.3 L481.8 1171 L479.8 1169.3 L477.9 1167.3 L476.1 1165.1 L474.4 1162.7 L473 1160.2 L471.7 1157.5 L470.7 1154.8 L469.9 1152.1 L469.5 1149.4 L469.3 1146.9 L469.3 1144.5 L469.7 1142.3 L470.4 1140.3 L471.3 1138.7 L472.4 1137.3 L473.8 1136.3 L475.4 1135.7 L477.1 1135.5 L479 1135.6 L481 1136.1 L483 1137" style="stroke-width:2.4"/>
<path class="p" d="M492.9 1171.3 L491.7 1171.8 L490.3 1171.9 L488.8 1171.8 L487.3 1171.3 L485.6 1170.6 L484 1169.5 L482.4 1168.2 L480.8 1166.6 L479.3 1164.9 L477.9 1162.9 L476.6 1160.9 L475.5 1158.7 L474.6 1156.4 L473.9 1154.2 L473.4 1152 L473.1 1149.9 L473 1147.8 L473.2 1146 L473.5 1144.3 L474.1 1142.9 L474.9 1141.7 L475.9 1140.8 L477.1 1140.1 L478.4 1139.8 L479.9 1139.8 L481.4 1140.1 L483 1140.7 L484.6 1141.6 L486.3 1142.8 L487.9 1144.3 L489.4 1145.9 L490.9 1147.8 L492.2 1149.8 L493.4 1151.9 L494.4 1154.1 L495.2 1156.4 L495.9 1158.6 L496.3 1160.8 L496.5 1162.9 L496.4 1164.8 L496.1 1166.6 L495.6 1168.2 L494.9 1169.5 L494 1170.5 L492.9 1171.3"/>
<path class="p" d="M494.4 1159.2 L494.6 1160.9 L494.8 1162.5 L494.7 1164 L494.4 1165.3 L494 1166.4 L493.4 1167.3 L492.7 1168 L491.8 1168.4 L490.8 1168.6 L489.7 1168.6 L488.5 1168.3 L487.3 1167.7 L486 1166.9 L484.7 1165.9 L483.5 1164.7 L482.3 1163.3 L481.1 1161.8 L480.1 1160.1 L479.2 1158.4 L478.4 1156.6 L477.7 1154.8 L477.2 1153 L476.9 1151.3 L476.7 1149.7 L476.7 1148.1 L476.9 1146.8" style="stroke-width:2.2"/>
<path class="p" d="M504.5 1156.5 C504.9 1158.2 507 1163.2 507 1166.5 C507 1169.8 504.9 1174.8 504.5 1176.5"/>
<path class="p" d="M486.2 1178.1 C487.6 1177.8 492.5 1177.8 494.5 1176.5 C496.6 1175.1 498 1170.9 498.7 1169.8" style="stroke-width:2.4"/>
<path class="pw" d="M423.9 1158.2 C422.8 1153.7 424.6 1151.3 426.4 1148.2 C428.2 1145.2 431.1 1141.6 434.7 1139.9 C438.3 1138.2 443.6 1137.1 448 1138.2 C452.4 1139.3 457.4 1142.7 461.3 1146.5 C465.2 1150.4 468.5 1156 471.3 1161.5 C474 1167 477.1 1174.5 477.9 1179.8 C478.7 1185.1 477.6 1189.8 476.2 1193.1 C474.9 1196.4 472.6 1198.5 469.6 1199.7 C466.6 1201 461.8 1201.1 458 1200.6 C454.1 1200 450.5 1200.7 446.3 1196.4 C442.2 1192.1 436.8 1181.2 433 1174.8 C429.3 1168.4 425 1162.6 423.9 1158.2 Z"/>
<path class="p" d="M423.1 1159 C424.2 1158 426.9 1154.4 429.7 1153.2 C432.5 1151.9 436.1 1151 439.7 1151.5 C443.3 1152.1 449.4 1155.7 451.3 1156.5"/>
<path class="p" d="M463 1156.5 C464.1 1158.7 468.1 1164.8 469.6 1169.8 C471.1 1174.8 472 1182 472.1 1186.4 C472.2 1190.9 470.7 1194.7 470.4 1196.4"/>
<path class="pt" d="M451.3 1141.6 C453.3 1143.2 459.4 1147.4 463 1151.5 C466.6 1155.7 470.6 1161.2 472.9 1166.5 C475.3 1171.8 476.4 1180.3 477.1 1183.1"/>
<ellipse class="p" cx="447.7" cy="1175.1" rx="23" ry="14.5" transform="rotate(62 447.7 1175.1)" style="stroke-width:2.2"/>
<ellipse class="p" cx="447.7" cy="1175.1" rx="20" ry="12" transform="rotate(62 447.7 1175.1)" style="stroke-width:2.4"/>
<ellipse class="p" cx="447.7" cy="1175.1" rx="17" ry="9.6" transform="rotate(62 447.7 1175.1)" style="stroke-width:2"/>
<path class="p" d="M453.8 1171.8 L454.7 1173.6 L455.4 1175.5 L456 1177.3 L456.4 1179.1 L456.6 1180.7 L456.7 1182.3 L456.5 1183.8 L456.2 1185 L455.7 1186.1 L455 1186.9 L454.2 1187.5 L453.3 1187.8 L452.2 1187.9 L451.1 1187.7 L449.8 1187.3 L448.6 1186.6 L447.3 1185.7 L446 1184.6 L444.8 1183.3 L443.6 1181.8 L442.5 1180.1 L441.5 1178.4" style="stroke-width:3"/>
<path class="p" d="M439.7 1194.7 C441.1 1195.3 444.9 1197.9 448 1198.1 C451 1198.2 456.3 1196 458 1195.6" style="stroke-width:2.4"/>
<path class="pw" d="M368.2 1151.5 C367.7 1142.5 378.7 1146.3 383.2 1145.7 C387.6 1145.2 390.4 1146.1 394.8 1148.2 C399.2 1150.3 404.5 1153.7 409.8 1158.2 C415 1162.6 422 1169 426.4 1174.8 C430.8 1180.6 433.7 1186.7 436.4 1193.1 C439 1199.5 441.6 1206.7 442.2 1213 C442.7 1219.4 441.2 1226.6 439.7 1231.3 C438.2 1236 436.4 1238.2 433 1241.3 C429.7 1244.3 423.1 1247.4 419.7 1249.6 C416.4 1251.8 418.6 1262.9 413.1 1254.6 C407.5 1246.3 394 1216.9 386.5 1199.7 C379 1182.6 368.8 1160.5 368.2 1151.5 Z"/>
<path class="p" d="M369.9 1154.9 C373.2 1156.8 383.7 1161.2 389.8 1166.5 C395.9 1171.8 402 1179.5 406.4 1186.4 C410.9 1193.4 414.2 1200.3 416.4 1208 C418.6 1215.8 419.7 1225.5 419.7 1233 C419.7 1240.5 417 1249.6 416.4 1252.9"/>
<path class="p" d="M394.8 1169.8 C397.8 1173.4 408.9 1183.7 413.1 1191.4 C417.2 1199.2 418.6 1212.2 419.7 1216.4"/>
<path class="p" d="M428 1193.1 C429.2 1196.4 433.9 1206.7 434.7 1213 C435.5 1219.4 434.4 1226.3 433 1231.3 C431.6 1236.3 427.5 1241 426.4 1243"/>
<path class="p" d="M409.8 1218 C410.6 1220.5 414.2 1226.9 414.7 1233 C415.3 1239.1 413.4 1251 413.1 1254.6"/>
<path class="p" d="M383.2 1148.2 C385.1 1149 391.2 1151 394.8 1153.2 C398.4 1155.4 403.1 1160.1 404.8 1161.5"/>
<ellipse class="pw" cx="373.2" cy="1213" rx="60.6" ry="42.4" transform="rotate(67 373.2 1213)"/>
<path class="p" d="M350.8 1203.1 C351.2 1201.4 351.4 1195.6 353.2 1193.1 C355 1190.6 358.2 1188.1 361.6 1188.1 C364.9 1188.1 369.6 1190 373.2 1193.1 C376.8 1196.1 380.5 1201.4 383.2 1206.4 C385.8 1211.4 388.2 1218 389 1223 C389.8 1228 389.1 1233.8 388.2 1236.3 C387.2 1238.8 384 1237.7 383.2 1238"/>
<path class="p" d="M362.4 1190.6 L364 1206.4 L368.2 1216.4 L356.6 1223.8 L386.5 1244.6 L393.1 1244.6"/>
<path class="p" d="M369.9 1216.4 C371 1218 373.7 1223.8 376.5 1226.3 C379.3 1228.8 384.8 1230.5 386.5 1231.3"/>
<path class="p" d="M367.4 1218.8 C368.3 1220.7 370.6 1226.5 373.2 1229.7 C375.8 1232.8 381.5 1236.6 383.2 1238"/>
<path class="p" d="M363.2 1231.3 L374.9 1238" style="stroke-width:2.4"/>
<path class="p" d="M371.9 1199.7 L377.3 1197.2" style="stroke-width:2.2"/>
<path class="p" d="M374 1203.1 L379.2 1200.7" style="stroke-width:2.2"/>
<path class="p" d="M376.2 1206.4 L381 1204.2" style="stroke-width:2.2"/>
<path class="p" d="M378.3 1209.7 L382.8 1207.7" style="stroke-width:2.2"/>
<path class="p" d="M380.5 1213 L384.7 1211.2" style="stroke-width:2.2"/>
<path class="p" d="M382.7 1216.4 L386.5 1214.7" style="stroke-width:2.2"/>
<path class="p" d="M384.8 1219.7 L388.3 1218.2" style="stroke-width:2.2"/>
<path class="p" d="M340.2 1182.3 L340.7 1182.2 L341.1 1182.2 L341.6 1182.3 L342.1 1182.5 L342.5 1182.7 L342.9 1183 L343.3 1183.3 L343.6 1183.7 L343.8 1184.1 L344 1184.5 L344.1 1185 L344.2 1185.5 L344.2 1185.9 L344.1 1186.4 L343.9 1186.9 L343.7 1187.3 L343.5 1187.7 L343.1 1188.1 L342.8 1188.4 L342.3 1188.6 L341.9 1188.8 L341.4 1188.9 L341 1189 L340.5 1189 L340 1188.9 L339.5 1188.8 L339.1 1188.6 L338.7 1188.3 L338.3 1188 L338 1187.6 L337.8 1187.2 L337.6 1186.8" style="stroke-width:2.1"/>
<path class="p" d="M374.3 1173.9 L374.7 1173.9 L375.2 1173.9 L375.7 1174 L376.2 1174.2 L376.6 1174.4 L377 1174.6 L377.3 1175 L377.6 1175.3 L377.9 1175.8 L378.1 1176.2 L378.2 1176.7 L378.3 1177.1 L378.2 1177.6 L378.2 1178.1 L378 1178.6 L377.8 1179 L377.5 1179.4 L377.2 1179.7 L376.8 1180.1 L376.4 1180.3 L376 1180.5 L375.5 1180.6 L375 1180.7 L374.6 1180.7 L374.1 1180.6 L373.6 1180.5 L373.2 1180.3 L372.8 1180 L372.4 1179.7 L372.1 1179.3 L371.9 1178.9 L371.7 1178.5" style="stroke-width:2.1"/>
<path class="p" d="M398.4 1216.3 L398.8 1216.3 L399.3 1216.3 L399.8 1216.4 L400.3 1216.5 L400.7 1216.8 L401.1 1217 L401.4 1217.4 L401.7 1217.7 L402 1218.1 L402.2 1218.6 L402.3 1219.1 L402.4 1219.5 L402.3 1220 L402.3 1220.5 L402.1 1220.9 L401.9 1221.4 L401.6 1221.8 L401.3 1222.1 L400.9 1222.4 L400.5 1222.7 L400.1 1222.9 L399.6 1223 L399.1 1223.1 L398.7 1223.1 L398.2 1223 L397.7 1222.8 L397.3 1222.6 L396.9 1222.4 L396.5 1222.1 L396.2 1221.7 L396 1221.3 L395.8 1220.8" style="stroke-width:2.1"/>
<path class="p" d="M393.4 1249.6 L393.9 1249.5 L394.3 1249.5 L394.8 1249.6 L395.3 1249.8 L395.7 1250 L396.1 1250.3 L396.5 1250.6 L396.8 1251 L397 1251.4 L397.2 1251.8 L397.3 1252.3 L397.4 1252.8 L397.4 1253.3 L397.3 1253.7 L397.1 1254.2 L396.9 1254.6 L396.6 1255 L396.3 1255.4 L395.9 1255.7 L395.5 1255.9 L395.1 1256.1 L394.6 1256.3 L394.2 1256.3 L393.7 1256.3 L393.2 1256.2 L392.7 1256.1 L392.3 1255.9 L391.9 1255.6 L391.5 1255.3 L391.2 1254.9 L391 1254.5 L390.8 1254.1" style="stroke-width:2.1"/>
<path class="p" d="M364.3 1244.6 L364.8 1244.5 L365.3 1244.6 L365.7 1244.6 L366.2 1244.8 L366.6 1245 L367 1245.3 L367.4 1245.6 L367.7 1246 L367.9 1246.4 L368.1 1246.8 L368.2 1247.3 L368.3 1247.8 L368.3 1248.3 L368.2 1248.7 L368 1249.2 L367.8 1249.6 L367.6 1250 L367.2 1250.4 L366.9 1250.7 L366.5 1251 L366 1251.1 L365.5 1251.3 L365.1 1251.3 L364.6 1251.3 L364.1 1251.3 L363.6 1251.1 L363.2 1250.9 L362.8 1250.6 L362.5 1250.3 L362.1 1249.9 L361.9 1249.5 L361.7 1249.1" style="stroke-width:2.1"/>
<path class="p" d="M343.5 1220.5 L344 1220.4 L344.5 1220.5 L344.9 1220.5 L345.4 1220.7 L345.8 1220.9 L346.2 1221.2 L346.6 1221.5 L346.9 1221.9 L347.1 1222.3 L347.3 1222.7 L347.4 1223.2 L347.5 1223.7 L347.5 1224.2 L347.4 1224.6 L347.3 1225.1 L347 1225.5 L346.8 1225.9 L346.5 1226.3 L346.1 1226.6 L345.7 1226.9 L345.2 1227 L344.8 1227.2 L344.3 1227.2 L343.8 1227.2 L343.3 1227.1 L342.9 1227 L342.4 1226.8 L342 1226.5 L341.7 1226.2 L341.4 1225.8 L341.1 1225.4 L340.9 1225" style="stroke-width:2.1"/>
<path class="p" d="M393.1 1244.6 L436.4 1272.9 L423.1 1280.4"/>
<path class="p" d="M404.8 1252.9 L413.1 1257.1" style="stroke-width:2.4"/>
<path class="pw" d="M523.6 1182.3 L549.4 1171.5 L552.7 1174.8 L552.7 1181.4 L530.3 1192.8 Z"/>
<path class="p" d="M529.8 1179.8 L532.8 1190.6" style="stroke-width:1.8"/>
<path class="p" d="M533.4 1178.2 L536.4 1188.9" style="stroke-width:1.8"/>
<path class="p" d="M537.1 1176.6 L540.1 1187.3" style="stroke-width:1.8"/>
<path class="p" d="M540.7 1175 L543.7 1185.6" style="stroke-width:1.8"/>
<path class="p" d="M544.4 1173.5 L547.4 1183.9" style="stroke-width:1.8"/>
<path class="p" d="M548.1 1171.9 L551.1 1182.3" style="stroke-width:1.8"/>
<path class="pw" d="M502 1191.4 C502.8 1188.9 504.9 1188.1 507.8 1186.4 C510.7 1184.8 516.4 1181.4 519.5 1181.4 C522.5 1181.4 524.5 1183.9 526.1 1186.4 C527.8 1188.9 529.4 1193.6 529.4 1196.4 C529.4 1199.2 528.1 1201 526.1 1203.1 C524.2 1205.1 520.9 1208 517.8 1208.9 C514.8 1209.7 510.3 1209.3 507.8 1208 C505.3 1206.8 503.8 1204.2 502.8 1201.4 C501.9 1198.6 501.2 1193.9 502 1191.4 Z"/>
<path class="p" d="M519.5 1182.3 C520.2 1183.5 522.5 1186.9 523.6 1189.8 C524.7 1192.7 526 1197.4 526.1 1199.7 C526.3 1202.1 524.7 1203.2 524.5 1203.9"/>
<path class="p" d="M511.2 1190.6 L515.3 1188.9 L516.1 1193.1"/>
<path class="p" d="M517.8 1199.7 L517.8 1208.9"/>
<path class="pw" d="M380.7 1287.8 L386.5 1279.5 L398.1 1273.7 L409.8 1271.2 L419.7 1281.2 L422.2 1296.1 L418.1 1302.8 L406.4 1305.3 L394.8 1307.8 L386.5 1302.8 L381.5 1296.1 Z" style="stroke-width:2.2"/>
<ellipse class="p" cx="391.8" cy="1292.8" rx="12" ry="8.6" transform="rotate(62 391.8 1292.8)" style="stroke-width:2.4"/>
<ellipse class="p" cx="391.8" cy="1292.8" rx="8.4" ry="5" transform="rotate(62 391.8 1292.8)" style="stroke-width:2"/>
<path class="p" d="M387.3 1289.5 L391.5 1287.8" style="stroke-width:1.6"/>
<path class="p" d="M389.3 1291.8 L393.5 1290.2" style="stroke-width:1.6"/>
<path class="p" d="M391.3 1294.1 L395.5 1292.5" style="stroke-width:1.6"/>
<path class="p" d="M393.3 1296.5 L397.5 1294.8" style="stroke-width:1.6"/>
<path class="p" d="M398.1 1274.2 L406.4 1291.2 L406.4 1305.3"/>
<path class="p" d="M406.4 1291.2 L421.4 1286.2"/>
<path class="p" d="M409.8 1272 C411 1273.8 415.6 1278.3 417.2 1282.8 C418.9 1287.4 419.3 1296.7 419.7 1299.5"/>
<!-- 90_labels.svg -->
<text class="lb" x="611.3" y="34.8">15</text>
<use href="#oil" x="651" y="7"/>
<path class="ld" d="M637.2 46.5 L637.2 118"/>
<text class="lb" x="647.5" y="82.4">21</text>
<use href="#oil" x="686" y="52.3"/>
<path class="ld" d="M656.9 86.5 L656.9 131"/>
<text class="lb" x="687.5" y="122.3">11</text>
<path class="ld" d="M697.3 128.3 L696.6 156"/>
<text class="lb" x="844.3" y="68.2">22</text>
<use href="#oil" x="884.2" y="45"/>
<path class="ld" d="M799.8 63.5 L840.8 63.5"/>
<text class="lb" x="917.8" y="68.2">22</text>
<use href="#oil" x="960.5" y="46.8"/>
<path class="ld" d="M925.5 73.8 L926.8 116.6"/>
<text class="lb" x="843" y="111.5">19</text>
<use href="#oil" x="882.7" y="87.3"/>
<path class="ld" d="M784 109.1 L838.9 109.1"/>
<text class="lb" x="849.9" y="150.6">10</text>
<path class="ld" d="M801.7 146.4 L843.6 146.4"/>
<text class="lb" x="356.4" y="159">24</text>
<use href="#tq" x="384.8" y="136.5"/>
<text class="lb" x="423.4" y="159">12 N&#183;m (1.2 kg-m)</text>
<path class="ld" d="M400 172 L400.2 210"/>
<text class="lb" x="322.3" y="184.5">18</text>
<path class="ld" d="M333.1 193.3 L333.1 237.1"/>
<text class="lb" x="661.2" y="240.5">20</text>
<path class="ld" d="M685 233.6 L747 233.6"/>
<text class="lb" x="885.4" y="254.7">10</text>
<path class="ld" d="M851.7 188.9 L891.6 214.8 L891.6 232.8"/>
<text class="lb" x="927.3" y="214.2">21</text>
<use href="#oil" x="965.2" y="187.9"/>
<path class="ld" d="M945 223.8 L945 296.6"/>
<text class="lb" x="954.2" y="265.7">15</text>
<use href="#oil" x="991.2" y="240"/>
<path class="ld" d="M963 272.7 L963 308.6"/>
<text class="lb" x="537.8" y="285.9">22</text>
<use href="#oil" x="575.9" y="261.4"/>
<path class="ld" d="M559.4 298.6 L559.4 326.3"/>
<text class="lb" x="697.5" y="352.9">10</text>
<path class="ld" d="M705.4 296.5 L705.4 333.7"/>
<text class="lb" x="834.5" y="329.5">10</text>
<path class="ld" d="M789.8 321.2 L830.7 321.2"/>
<text class="lb" x="876.4" y="347">11</text>
<path class="ld" d="M862.7 293.6 L885.6 307.6 L885.6 330.5"/>
<text class="lb" x="832.5" y="378.4">19</text>
<use href="#oil" x="874" y="356.5"/>
<path class="ld" d="M783.3 373.1 L827.2 373.1"/>
<text class="lb" x="610.2" y="417">12</text>
<use href="#oil" x="650.3" y="397"/>
<path class="ld" d="M618.4 312.4 L619.2 396.2"/>
<text class="lb" x="837.1" y="437.4">22</text>
<use href="#oil" x="878.5" y="417.5"/>
<path class="ld" d="M796.6 430 L829.8 430"/>
<text class="lb" x="329.8" y="471">17</text>
<path class="ld" d="M340 411.4 L340 452.4"/>
<text class="lb" x="388.5" y="507.7">16</text>
<use href="#oil" x="427.8" y="485"/>
<path class="ld" d="M400.2 449.6 L400.2 489.1"/>
<text class="lb" x="246.5" y="821.2">3</text>
<use href="#xc" x="277.6" y="815.1"/>
<path class="ld" d="M259.6 718.3 L259.6 798.6"/>
<text class="lb" x="299.4" y="773.7">5</text>
<use href="#oil" x="330.8" y="750.4"/>
<path class="ld" d="M320.1 704.8 L320.1 743.2"/>
<text class="lb" x="352.7" y="738.2">4</text>
<path class="ld" d="M358.4 661.8 L358.4 720.6"/>
<text class="lb" x="518.7" y="733.7">2</text>
<path class="ld" d="M451.7 604.2 L451.7 683.3 L588 683.3 L588 640"/>
<path class="ld" d="M524.1 684.4 L524.1 711.5"/>
<text class="lb" x="547.1" y="777.8">27</text>
<use href="#lk" x="574" y="757.8"/>
<use href="#tq" x="630.2" y="756"/>
<text class="lb" x="667.5" y="777.8">9 N&#183;m (0.9 kg-m)</text>
<path class="ld" d="M621.8 706 L621.8 750"/>
<path class="ld" d="M700 615.5 L673.4 602.2 L673.4 723 L649.5 711.3"/>
<text class="lb" x="771.9" y="522.8">14</text>
<path class="ld" d="M782.8 526.5 L782.8 570.8"/>
<text class="lb" x="859.4" y="549.8">13</text>
<path class="ld" d="M868.5 554.5 L868.5 603.3"/>
<text class="lb" x="940.4" y="581.5">23</text>
<use href="#lk" x="966.5" y="563.5"/>
<use href="#tq" x="1022.3" y="560"/>
<text class="lb" x="1059.6" y="581.5">95 N&#183;m (9.5 kg-m)</text>
<path class="ld" d="M951.3 590.8 L951.3 659.2"/>
<text class="lb" x="1087.5" y="626.6">24</text>
<use href="#tq" x="1115.4" y="603.3"/>
<text class="lb" x="1153.6" y="624.3">12 N&#183;m (1.2 kg-m)</text>
<path class="ld" d="M1140.8 640.6 L1140.8 680"/>
<text class="lb" x="1065.2" y="652.2">18</text>
<path class="ld" d="M1074.7 659.2 L1074.7 703.4"/>
<text class="lb" x="881.3" y="853.7">16</text>
<use href="#oil" x="922.5" y="828.1"/>
<path class="ld" d="M908.5 788.1 L908.5 822.1"/>
<text class="lb" x="968.3" y="877">17</text>
<path class="ld" d="M977.9 822.1 L977.9 857.9"/>
<text class="lb" x="807.8" y="894.2">25</text>
<use href="#tq" x="834" y="872"/>
<text class="lb" x="874.3" y="894.2">85 N&#183;m</text>
<text class="lb" x="874.3" y="917.5">(8.5 kg-m)</text>
<text class="lb" x="702.5" y="813.9">9</text>
<path class="ld" d="M708 818.7 L708 846.9"/>
<path class="ld" d="M624.8 950 L624.8 892.1 L817 788.4 L817 872.5"/>
<path class="ld" d="M817 898.5 L817.2 980.5"/>
<text class="lb" x="383.6" y="1014">7</text>
<use href="#xc" x="415.3" y="1009"/>
<use href="#gr" transform="translate(427.6,981) scale(0.95)"/>
<path class="ld" d="M435 1030.3 L435 1139.7"/>
<text class="lb" x="462.7" y="1069.9">6</text>
<use href="#oil" x="495.3" y="1042.2"/>
<path class="ld" d="M481.4 1082 L481.4 1116.4"/>
<text class="lb" x="339.4" y="1109.4">1</text>
<path class="ld" d="M344.2 1116.4 L344.2 1158.3"/>
<text class="lb" x="504.6" y="1253.7">26</text>
<use href="#tq" x="534" y="1232.5"/>
<text class="lb" x="572.1" y="1253.7">55 N&#183;m (5.5 kg-m)</text>
<path class="ld" d="M516.4 1204.8 L516.4 1232.8"/>
<text class="lb" x="410.6" y="1356.1">8</text>
<use href="#ck" x="426.8" y="1333.8"/>
<use href="#xc" x="482.4" y="1349.1"/>
<path class="ld" d="M415.4 1304.9 L415.4 1330.5"/>
<use href="#lk" x="1104.5" y="1495.5"/>
<use href="#lk" x="757.5" y="1720.8"/>
<use href="#xc" x="1202.5" y="1599.5"/>
<use href="#tq" x="1185.3" y="1627.5"/>
<use href="#oil" x="1193.5" y="1672"/>
</svg>
</body></html>
